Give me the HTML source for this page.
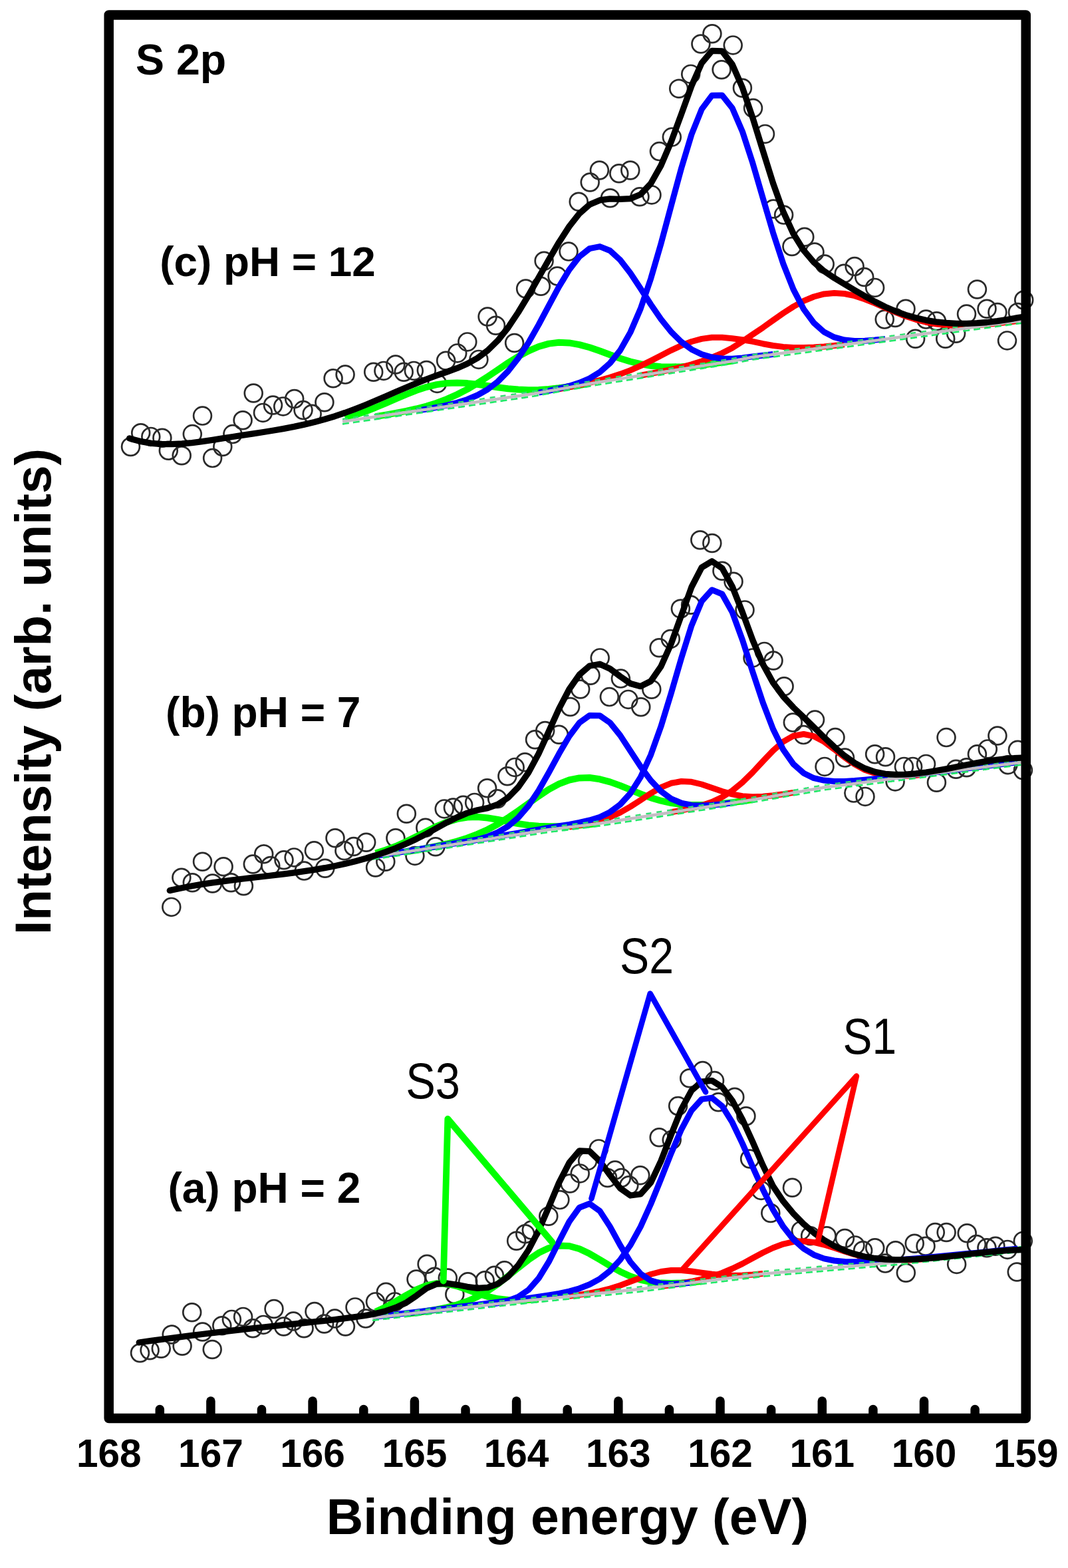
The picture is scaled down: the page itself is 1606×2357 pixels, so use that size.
<!DOCTYPE html><html><head><meta charset="utf-8"><title>S 2p XPS spectra</title><style>html,body{margin:0;padding:0;background:#fff;}svg{display:block;}</style></head><body><svg xmlns="http://www.w3.org/2000/svg" width="1606" height="2357" viewBox="0 0 1606 2357">
<rect width="100%" height="100%" fill="#fff"/>
<g fill="none" stroke="#2a2a2a" stroke-width="2.7"><circle cx="196.5" cy="671.5" r="13.4"/><circle cx="211.7" cy="650.7" r="13.4"/><circle cx="226.8" cy="656.4" r="13.4"/><circle cx="243.9" cy="658.3" r="13.4"/><circle cx="253.3" cy="677.2" r="13.4"/><circle cx="273.2" cy="684.8" r="13.4"/><circle cx="289.3" cy="652.6" r="13.4"/><circle cx="304.5" cy="625.1" r="13.4"/><circle cx="319.6" cy="688.6" r="13.4"/><circle cx="334.8" cy="671.5" r="13.4"/><circle cx="349.9" cy="652.6" r="13.4"/><circle cx="365.1" cy="631.7" r="13.4"/><circle cx="381.2" cy="591.0" r="13.4"/><circle cx="395.4" cy="620.4" r="13.4"/><circle cx="410.5" cy="609.0" r="13.4"/><circle cx="425.7" cy="610.9" r="13.4"/><circle cx="442.7" cy="599.5" r="13.4"/><circle cx="456.0" cy="616.6" r="13.4"/><circle cx="469.2" cy="622.3" r="13.4"/><circle cx="487.9" cy="604.8" r="13.4"/><circle cx="501.1" cy="568.8" r="13.4"/><circle cx="519.1" cy="563.1" r="13.4"/><circle cx="561.7" cy="559.3" r="13.4"/><circle cx="576.9" cy="557.4" r="13.4"/><circle cx="594.9" cy="548.0" r="13.4"/><circle cx="607.2" cy="559.3" r="13.4"/><circle cx="622.3" cy="557.4" r="13.4"/><circle cx="641.3" cy="556.5" r="13.4"/><circle cx="657.4" cy="576.4" r="13.4"/><circle cx="670.6" cy="542.3" r="13.4"/><circle cx="687.7" cy="530.9" r="13.4"/><circle cx="702.8" cy="513.9" r="13.4"/><circle cx="719.9" cy="540.4" r="13.4"/><circle cx="733.1" cy="476.0" r="13.4"/><circle cx="745.5" cy="489.2" r="13.4"/><circle cx="773.6" cy="515.5" r="13.4"/><circle cx="790.6" cy="434.0" r="13.4"/><circle cx="813.3" cy="430.2" r="13.4"/><circle cx="818.1" cy="392.3" r="13.4"/><circle cx="838.0" cy="415.1" r="13.4"/><circle cx="855.0" cy="378.1" r="13.4"/><circle cx="870.2" cy="303.3" r="13.4"/><circle cx="887.2" cy="274.0" r="13.4"/><circle cx="901.4" cy="256.0" r="13.4"/><circle cx="917.5" cy="297.7" r="13.4"/><circle cx="930.8" cy="260.7" r="13.4"/><circle cx="947.8" cy="256.0" r="13.4"/><circle cx="962.0" cy="295.8" r="13.4"/><circle cx="980.0" cy="292.9" r="13.4"/><circle cx="991.4" cy="227.6" r="13.4"/><circle cx="1010.3" cy="206.1" r="13.4"/><circle cx="1020.7" cy="133.2" r="13.4"/><circle cx="1038.7" cy="111.4" r="13.4"/><circle cx="1053.9" cy="66.0" r="13.4"/><circle cx="1070.9" cy="50.8" r="13.4"/><circle cx="1085.1" cy="104.8" r="13.4"/><circle cx="1102.2" cy="67.9" r="13.4"/><circle cx="1116.4" cy="132.3" r="13.4"/><circle cx="1132.5" cy="162.6" r="13.4"/><circle cx="1150.5" cy="201.4" r="13.4"/><circle cx="1163.0" cy="314.0" r="13.4"/><circle cx="1178.6" cy="323.1" r="13.4"/><circle cx="1190.9" cy="370.5" r="13.4"/><circle cx="1209.8" cy="356.3" r="13.4"/><circle cx="1225.0" cy="379.0" r="13.4"/><circle cx="1240.2" cy="397.0" r="13.4"/><circle cx="1269.2" cy="411.2" r="13.4"/><circle cx="1285.1" cy="400.5" r="13.4"/><circle cx="1299.7" cy="416.5" r="13.4"/><circle cx="1315.6" cy="432.4" r="13.4"/><circle cx="1330.2" cy="480.1" r="13.4"/><circle cx="1346.1" cy="477.5" r="13.4"/><circle cx="1362.0" cy="464.2" r="13.4"/><circle cx="1376.6" cy="509.3" r="13.4"/><circle cx="1392.5" cy="480.1" r="13.4"/><circle cx="1408.4" cy="482.8" r="13.4"/><circle cx="1421.7" cy="509.3" r="13.4"/><circle cx="1437.6" cy="501.3" r="13.4"/><circle cx="1453.5" cy="472.1" r="13.4"/><circle cx="1469.4" cy="435.0" r="13.4"/><circle cx="1484.0" cy="464.2" r="13.4"/><circle cx="1499.9" cy="469.5" r="13.4"/><circle cx="1514.5" cy="511.9" r="13.4"/><circle cx="1530.4" cy="469.5" r="13.4"/><circle cx="1539.7" cy="451.0" r="13.4"/></g>
<polyline points="518.8,628.3 534.1,623.7 549.5,618.5 564.8,612.5 580.1,606.1 595.4,599.4 610.8,592.8 626.1,586.8 641.4,581.8 656.7,578.1 672.1,576.0 687.4,575.4 702.7,576.1 718.0,577.8 733.4,580.0 748.7,582.2 764.0,584.2 779.3,585.6 794.7,586.3 810.0,586.0 825.3,584.9 840.6,583.3 856.0,581.3 871.3,579.0 886.6,576.6" fill="none" stroke="#00ff00" stroke-width="10.0" stroke-linejoin="round" stroke-linecap="butt"/>
<polyline points="564.8,626.1 580.1,623.6 595.4,620.9 610.8,617.9 626.1,614.5 641.4,610.5 656.7,605.7 672.1,599.9 687.4,593.0 702.7,585.1 718.0,576.0 733.4,566.1 748.7,555.8 764.0,545.5 779.3,535.9 794.7,527.6 810.0,521.0 825.3,516.6 840.6,514.8 856.0,515.4 871.3,518.1 886.6,522.3 902.0,527.5 917.3,533.3 932.6,538.7 947.9,543.5 963.3,547.1 978.6,549.7 993.9,551.2 1009.2,551.6 1024.6,551.2 1039.9,550.2 1055.2,548.7 1070.5,546.9 1085.9,544.8 1101.2,542.5" fill="none" stroke="#00ff00" stroke-width="10.0" stroke-linejoin="round" stroke-linecap="butt"/>
<polyline points="840.6,584.8 856.0,581.9 871.3,578.7 886.6,575.3 902.0,571.5 917.3,567.4 932.6,562.4 947.9,556.6 963.3,549.9 978.6,542.4 993.9,534.5 1009.2,526.6 1024.6,519.4 1039.9,513.5 1055.2,509.4 1070.5,507.3 1085.9,507.2 1101.2,508.7 1116.5,510.7 1131.8,513.3 1147.2,516.7 1162.5,519.5 1177.8,521.4 1193.1,522.5 1208.5,522.6 1223.8,522.1 1239.1,521.0 1254.5,519.5 1269.8,517.8" fill="none" stroke="#ff0000" stroke-width="9.0" stroke-linejoin="round" stroke-linecap="butt"/>
<polyline points="963.3,564.2 978.6,561.5 993.9,558.6 1009.2,555.5 1024.6,552.0 1039.9,547.9 1055.2,543.1 1070.5,537.5 1085.9,530.8 1101.2,522.9 1116.5,513.3 1131.8,502.8 1147.2,492.4 1162.5,481.5 1177.8,470.8 1193.1,460.9 1208.5,452.4 1223.8,446.0 1239.1,441.9 1254.5,440.4 1269.8,441.5 1285.1,444.7 1300.4,449.8 1315.8,455.9 1331.1,462.6 1346.4,469.2 1361.7,475.2 1377.1,480.3 1392.4,484.2 1407.7,487.0 1423.0,488.7 1438.4,489.5 1453.7,489.4 1469.0,488.7 1484.3,487.5 1499.7,486.0 1515.0,484.3 1530.3,482.5" fill="none" stroke="#ff0000" stroke-width="9.0" stroke-linejoin="round" stroke-linecap="butt"/>
<polyline points="626.1,617.4 641.4,615.0 656.7,612.3 672.1,609.2 687.4,605.4 702.7,600.5 718.0,594.0 733.4,585.3 748.7,573.5 764.0,558.0 779.3,538.5 794.7,515.1 810.0,488.1 825.3,459.3 840.6,430.9 856.0,405.5 871.3,385.7 886.6,373.6 902.0,370.6 917.3,376.7 932.6,390.8 947.9,410.6 963.3,433.7 978.6,457.5 993.9,479.7 1009.2,498.8 1024.6,514.0 1039.9,525.2 1055.2,532.6 1070.5,537.0 1085.9,539.0 1101.2,539.3 1116.5,537.9 1131.8,535.9 1147.2,534.3 1162.5,532.5" fill="none" stroke="#0000ff" stroke-width="9.0" stroke-linejoin="round" stroke-linecap="butt"/>
<polyline points="810.0,590.2 825.3,587.3 840.6,584.0 856.0,580.2 871.3,575.4 886.6,568.8 902.0,559.3 917.3,545.9 932.6,526.6 947.9,499.6 963.3,463.9 978.6,419.1 993.9,366.6 1009.2,309.5 1024.6,252.7 1039.9,202.1 1055.2,164.1 1070.5,143.6 1085.9,143.2 1101.2,162.5 1116.5,198.0 1131.8,244.9 1147.2,297.8 1162.5,349.8 1177.8,396.5 1193.1,435.1 1208.5,464.6 1223.8,485.4 1239.1,499.0 1254.5,506.9 1269.8,511.0 1285.1,512.4 1300.4,512.2 1315.8,511.0 1331.1,509.4" fill="none" stroke="#0000ff" stroke-width="9.0" stroke-linejoin="round" stroke-linecap="butt"/>
<polyline points="515.0,633.6 517.0,633.3 519.0,633.0 521.0,632.7 523.0,632.4 525.0,632.2 527.0,631.9 529.0,631.6 531.0,631.3 533.0,631.0 535.0,630.7 537.0,630.4 539.0,630.1 541.0,629.9 543.0,629.6 545.0,629.3 547.0,629.0 549.0,628.7 551.0,628.4 553.0,628.1 555.0,627.8 557.0,627.5 559.0,627.3 561.0,627.0 563.0,626.7 565.0,626.4 567.0,626.1 569.0,625.8 571.0,625.5 573.0,625.2 575.0,625.0 577.0,624.7 579.0,624.4 581.0,624.1 583.0,623.8 585.0,623.5 587.0,623.2 589.0,622.9 591.0,622.6 593.0,622.4 595.0,622.1 597.0,621.8 599.0,621.5 601.0,621.2 603.0,620.9 605.0,620.6 607.0,620.3 609.0,620.1 611.0,619.8 613.0,619.5 615.0,619.2 617.0,618.9 619.0,618.6 621.0,618.3 623.0,618.0 625.0,617.7 627.0,617.5 629.0,617.2 631.0,616.9 633.0,616.6 635.0,616.3 637.0,616.0 639.0,615.7 641.0,615.4 643.0,615.2 645.0,614.9 647.0,614.6 649.0,614.3 651.0,614.0 653.0,613.7 655.0,613.4 657.0,613.1 659.0,612.8 661.0,612.5 663.0,612.2 665.0,612.0 667.0,611.7 669.0,611.4 671.0,611.1 673.0,610.8 675.0,610.5 677.0,610.2 679.0,609.9 681.0,609.6 683.0,609.3 685.0,609.0 687.0,608.7 689.0,608.4 691.0,608.1 693.0,607.9 695.0,607.6 697.0,607.3 699.0,607.0 701.0,606.7 703.0,606.4 705.0,606.1 707.0,605.8 709.0,605.5 711.0,605.2 713.0,604.9 715.0,604.6 717.0,604.3 719.0,604.1 721.0,603.8 723.0,603.5 725.0,603.2 727.0,602.9 729.0,602.6 731.0,602.3 733.0,602.0 735.0,601.7 737.0,601.4 739.0,601.1 741.0,600.8 743.0,600.5 745.0,600.2 747.0,600.0 749.0,599.7 751.0,599.4 753.0,599.1 755.0,598.8 757.0,598.5 759.0,598.2 761.0,597.9 763.0,597.6 765.0,597.3 767.0,597.0 769.0,596.7 771.0,596.4 773.0,596.2 775.0,595.9 777.0,595.6 779.0,595.3 781.0,595.0 783.0,594.7 785.0,594.4 787.0,594.1 789.0,593.8 791.0,593.5 793.0,593.2 795.0,592.9 797.0,592.6 799.0,592.3 801.0,592.0 803.0,591.7 805.0,591.3 807.0,591.0 809.0,590.6 811.0,590.3 813.0,589.9 815.0,589.5 817.0,589.2 819.0,588.8 821.0,588.5 823.0,588.1 825.0,587.8 827.0,587.4 829.0,587.1 831.0,586.7 833.0,586.4 835.0,586.0 837.0,585.7 839.0,585.3 841.0,584.9 843.0,584.6 845.0,584.2 847.0,583.9 849.0,583.5 851.0,583.2 853.0,582.8 855.0,582.5 857.0,582.1 859.0,581.8 861.0,581.4 863.0,581.0 865.0,580.7 867.0,580.3 869.0,580.0 871.0,579.6 873.0,579.3 875.0,578.9 877.0,578.6 879.0,578.2 881.0,577.9 883.0,577.5 885.0,577.2 887.0,576.8 889.0,576.4 891.0,576.1 893.0,575.7 895.0,575.4 897.0,575.0 899.0,574.7 901.0,574.3 903.0,574.0 905.0,573.7 907.0,573.4 909.0,573.1 911.0,572.8 913.0,572.5 915.0,572.1 917.0,571.8 919.0,571.5 921.0,571.2 923.0,570.9 925.0,570.6 927.0,570.2 929.0,569.9 931.0,569.6 933.0,569.3 935.0,569.0 937.0,568.7 939.0,568.4 941.0,568.0 943.0,567.7 945.0,567.4 947.0,567.1 949.0,566.8 951.0,566.5 953.0,566.2 955.0,565.8 957.0,565.5 959.0,565.2 961.0,564.9 963.0,564.6 965.0,564.3 967.0,563.9 969.0,563.6 971.0,563.3 973.0,563.0 975.0,562.7 977.0,562.4 979.0,562.1 981.0,561.7 983.0,561.4 985.0,561.1 987.0,560.8 989.0,560.5 991.0,560.2 993.0,559.9 995.0,559.5 997.0,559.2 999.0,558.9 1001.0,558.6 1003.0,558.3 1005.0,558.0 1007.0,557.6 1009.0,557.3 1011.0,557.0 1013.0,556.7 1015.0,556.4 1017.0,556.1 1019.0,555.8 1021.0,555.4 1023.0,555.1 1025.0,554.8 1027.0,554.5 1029.0,554.2 1031.0,553.9 1033.0,553.6 1035.0,553.2 1037.0,552.9 1039.0,552.6 1041.0,552.3 1043.0,552.0 1045.0,551.7 1047.0,551.3 1049.0,551.0 1051.0,550.7 1053.0,550.4 1055.0,550.1 1057.0,549.8 1059.0,549.5 1061.0,549.1 1063.0,548.8 1065.0,548.5 1067.0,548.2 1069.0,547.9 1071.0,547.6 1073.0,547.3 1075.0,546.9 1077.0,546.6 1079.0,546.3 1081.0,546.0 1083.0,545.7 1085.0,545.4 1087.0,545.0 1089.0,544.7 1091.0,544.4 1093.0,544.1 1095.0,543.8 1097.0,543.5 1099.0,543.2 1101.0,542.8 1103.0,542.4 1105.0,542.0 1107.0,541.6 1109.0,541.2 1111.0,540.8 1113.0,540.4 1115.0,540.0 1117.0,539.7 1119.0,539.3 1121.0,538.9 1123.0,538.5 1125.0,538.1 1127.0,537.7 1129.0,537.3 1131.0,537.0 1133.0,536.7 1135.0,536.4 1137.0,536.1 1139.0,535.9 1141.0,535.6 1143.0,535.3 1145.0,535.1 1147.0,534.8 1149.0,534.5 1151.0,534.2 1153.0,534.0 1155.0,533.7 1157.0,533.4 1159.0,533.2 1161.0,532.9 1163.0,532.6 1165.0,532.3 1167.0,532.1 1169.0,531.8 1171.0,531.5 1173.0,531.3 1175.0,531.0 1177.0,530.7 1179.0,530.4 1181.0,530.2 1183.0,529.9 1185.0,529.6 1187.0,529.4 1189.0,529.1 1191.0,528.8 1193.0,528.5 1195.0,528.3 1197.0,528.0 1199.0,527.7 1201.0,527.5 1203.0,527.2 1205.0,526.9 1207.0,526.6 1209.0,526.4 1211.0,526.1 1213.0,525.8 1215.0,525.6 1217.0,525.3 1219.0,525.0 1221.0,524.7 1223.0,524.5 1225.0,524.2 1227.0,523.9 1229.0,523.7 1231.0,523.4 1233.0,523.1 1235.0,522.8 1237.0,522.6 1239.0,522.3 1241.0,522.0 1243.0,521.8 1245.0,521.5 1247.0,521.2 1249.0,520.9 1251.0,520.7 1253.0,520.4 1255.0,520.1 1257.0,519.8 1259.0,519.6 1261.0,519.3 1263.0,519.0 1265.0,518.8 1267.0,518.5 1269.0,518.2 1271.0,517.9 1273.0,517.7 1275.0,517.4 1277.0,517.1 1279.0,516.9 1281.0,516.6 1283.0,516.3 1285.0,516.0 1287.0,515.8 1289.0,515.5 1291.0,515.2 1293.0,515.0 1295.0,514.7 1297.0,514.4 1299.0,514.1 1301.0,513.9 1303.0,513.6 1305.0,513.3 1307.0,513.1 1309.0,512.8 1311.0,512.5 1313.0,512.2 1315.0,512.0 1317.0,511.7 1319.0,511.4 1321.0,511.2 1323.0,510.9 1325.0,510.6 1327.0,510.3 1329.0,510.1 1331.0,509.8 1333.0,509.5 1335.0,509.3 1337.0,509.0 1339.0,508.7 1341.0,508.4 1343.0,508.2 1345.0,507.9 1347.0,507.6 1349.0,507.4 1351.0,507.1 1353.0,506.8 1355.0,506.5 1357.0,506.3 1359.0,506.0 1361.0,505.7 1363.0,505.5 1365.0,505.2 1367.0,504.9 1369.0,504.6 1371.0,504.4 1373.0,504.1 1375.0,503.8 1377.0,503.5 1379.0,503.3 1381.0,503.0 1383.0,502.7 1385.0,502.5 1387.0,502.2 1389.0,501.9 1391.0,501.6 1393.0,501.4 1395.0,501.1 1397.0,500.8 1399.0,500.6 1401.0,500.3 1403.0,500.0 1405.0,499.7 1407.0,499.5 1409.0,499.2 1411.0,498.9 1413.0,498.7 1415.0,498.4 1417.0,498.1 1419.0,497.8 1421.0,497.6 1423.0,497.3 1425.0,497.0 1427.0,496.8 1429.0,496.5 1431.0,496.2 1433.0,495.9 1435.0,495.7 1437.0,495.4 1439.0,495.1 1441.0,494.9 1443.0,494.6 1445.0,494.3 1447.0,494.0 1449.0,493.8 1451.0,493.5 1453.0,493.2 1455.0,493.0 1457.0,492.7 1459.0,492.4 1461.0,492.1 1463.0,491.9 1465.0,491.6 1467.0,491.3 1469.0,491.1 1471.0,490.8 1473.0,490.5 1475.0,490.2 1477.0,490.0 1479.0,489.7 1481.0,489.4 1483.0,489.2 1485.0,488.9 1487.0,488.6 1489.0,488.3 1491.0,488.1 1493.0,487.8 1495.0,487.5 1497.0,487.2 1499.0,487.0 1501.0,486.7 1503.0,486.4 1505.0,486.2 1507.0,485.9 1509.0,485.6 1511.0,485.3 1513.0,485.1 1515.0,484.8 1517.0,484.5 1519.0,484.3 1521.0,484.0 1523.0,483.7 1525.0,483.4 1527.0,483.2 1529.0,482.9 1531.0,482.6 1533.0,482.4 1535.0,482.1 1537.0,481.8 1539.0,481.5 1541.0,481.3 1543.0,481.0" fill="none" stroke="#c4bcc4" stroke-width="4.5"/>
<polyline points="515.0,637.4 517.0,637.1 519.0,636.8 521.0,636.5 523.0,636.2 525.0,636.0 527.0,635.7 529.0,635.4 531.0,635.1 533.0,634.8 535.0,634.5 537.0,634.2 539.0,633.9 541.0,633.7 543.0,633.4 545.0,633.1 547.0,632.8 549.0,632.5 551.0,632.2 553.0,631.9 555.0,631.6 557.0,631.3 559.0,631.1 561.0,630.8 563.0,630.5 565.0,630.2 567.0,629.9 569.0,629.6 571.0,629.3 573.0,629.0 575.0,628.8 577.0,628.5 579.0,628.2 581.0,627.9 583.0,627.6 585.0,627.3 587.0,627.0 589.0,626.7 591.0,626.4 593.0,626.2 595.0,625.9 597.0,625.6 599.0,625.3 601.0,625.0 603.0,624.7 605.0,624.4 607.0,624.1 609.0,623.9 611.0,623.6 613.0,623.3 615.0,623.0 617.0,622.7 619.0,622.4 621.0,622.1 623.0,621.8 625.0,621.5 627.0,621.3 629.0,621.0 631.0,620.7 633.0,620.4 635.0,620.1 637.0,619.8 639.0,619.5 641.0,619.2 643.0,619.0 645.0,618.7 647.0,618.4 649.0,618.1 651.0,617.8 653.0,617.5 655.0,617.2 657.0,616.9 659.0,616.6 661.0,616.3 663.0,616.0 665.0,615.8 667.0,615.5 669.0,615.2 671.0,614.9 673.0,614.6 675.0,614.3 677.0,614.0 679.0,613.7 681.0,613.4 683.0,613.1 685.0,612.8 687.0,612.5 689.0,612.2 691.0,611.9 693.0,611.7 695.0,611.4 697.0,611.1 699.0,610.8 701.0,610.5 703.0,610.2 705.0,609.9 707.0,609.6 709.0,609.3 711.0,609.0 713.0,608.7 715.0,608.4 717.0,608.1 719.0,607.9 721.0,607.6 723.0,607.3 725.0,607.0 727.0,606.7 729.0,606.4 731.0,606.1 733.0,605.8 735.0,605.5 737.0,605.2 739.0,604.9 741.0,604.6 743.0,604.3 745.0,604.0 747.0,603.8 749.0,603.5 751.0,603.2 753.0,602.9 755.0,602.6 757.0,602.3 759.0,602.0 761.0,601.7 763.0,601.4 765.0,601.1 767.0,600.8 769.0,600.5 771.0,600.2 773.0,600.0 775.0,599.7 777.0,599.4 779.0,599.1 781.0,598.8 783.0,598.5 785.0,598.2 787.0,597.9 789.0,597.6 791.0,597.3 793.0,597.0 795.0,596.7 797.0,596.4 799.0,596.1 801.0,595.8 803.0,595.5 805.0,595.1 807.0,594.8 809.0,594.4 811.0,594.1 813.0,593.7 815.0,593.3 817.0,593.0 819.0,592.6 821.0,592.3 823.0,591.9 825.0,591.6 827.0,591.2 829.0,590.9 831.0,590.5 833.0,590.2 835.0,589.8 837.0,589.5 839.0,589.1 841.0,588.7 843.0,588.4 845.0,588.0 847.0,587.7 849.0,587.3 851.0,587.0 853.0,586.6 855.0,586.3 857.0,585.9 859.0,585.6 861.0,585.2 863.0,584.8 865.0,584.5 867.0,584.1 869.0,583.8 871.0,583.4 873.0,583.1 875.0,582.7 877.0,582.4 879.0,582.0 881.0,581.7 883.0,581.3 885.0,581.0 887.0,580.6 889.0,580.2 891.0,579.9 893.0,579.5 895.0,579.2 897.0,578.8 899.0,578.5 901.0,578.1 903.0,577.8 905.0,577.5 907.0,577.2 909.0,576.9 911.0,576.6 913.0,576.3 915.0,575.9 917.0,575.6 919.0,575.3 921.0,575.0 923.0,574.7 925.0,574.4 927.0,574.0 929.0,573.7 931.0,573.4 933.0,573.1 935.0,572.8 937.0,572.5 939.0,572.2 941.0,571.8 943.0,571.5 945.0,571.2 947.0,570.9 949.0,570.6 951.0,570.3 953.0,570.0 955.0,569.6 957.0,569.3 959.0,569.0 961.0,568.7 963.0,568.4 965.0,568.1 967.0,567.7 969.0,567.4 971.0,567.1 973.0,566.8 975.0,566.5 977.0,566.2 979.0,565.9 981.0,565.5 983.0,565.2 985.0,564.9 987.0,564.6 989.0,564.3 991.0,564.0 993.0,563.7 995.0,563.3 997.0,563.0 999.0,562.7 1001.0,562.4 1003.0,562.1 1005.0,561.8 1007.0,561.4 1009.0,561.1 1011.0,560.8 1013.0,560.5 1015.0,560.2 1017.0,559.9 1019.0,559.6 1021.0,559.2 1023.0,558.9 1025.0,558.6 1027.0,558.3 1029.0,558.0 1031.0,557.7 1033.0,557.4 1035.0,557.0 1037.0,556.7 1039.0,556.4 1041.0,556.1 1043.0,555.8 1045.0,555.5 1047.0,555.1 1049.0,554.8 1051.0,554.5 1053.0,554.2 1055.0,553.9 1057.0,553.6 1059.0,553.3 1061.0,552.9 1063.0,552.6 1065.0,552.3 1067.0,552.0 1069.0,551.7 1071.0,551.4 1073.0,551.1 1075.0,550.7 1077.0,550.4 1079.0,550.1 1081.0,549.8 1083.0,549.5 1085.0,549.2 1087.0,548.8 1089.0,548.5 1091.0,548.2 1093.0,547.9 1095.0,547.6 1097.0,547.3 1099.0,547.0 1101.0,546.6 1103.0,546.2 1105.0,545.8 1107.0,545.4 1109.0,545.0 1111.0,544.6 1113.0,544.2 1115.0,543.8 1117.0,543.5 1119.0,543.1 1121.0,542.7 1123.0,542.3 1125.0,541.9 1127.0,541.5 1129.0,541.1 1131.0,540.8 1133.0,540.5 1135.0,540.2 1137.0,539.9 1139.0,539.7 1141.0,539.4 1143.0,539.1 1145.0,538.9 1147.0,538.6 1149.0,538.3 1151.0,538.0 1153.0,537.8 1155.0,537.5 1157.0,537.2 1159.0,537.0 1161.0,536.7 1163.0,536.4 1165.0,536.1 1167.0,535.9 1169.0,535.6 1171.0,535.3 1173.0,535.1 1175.0,534.8 1177.0,534.5 1179.0,534.2 1181.0,534.0 1183.0,533.7 1185.0,533.4 1187.0,533.2 1189.0,532.9 1191.0,532.6 1193.0,532.3 1195.0,532.1 1197.0,531.8 1199.0,531.5 1201.0,531.3 1203.0,531.0 1205.0,530.7 1207.0,530.4 1209.0,530.2 1211.0,529.9 1213.0,529.6 1215.0,529.4 1217.0,529.1 1219.0,528.8 1221.0,528.5 1223.0,528.3 1225.0,528.0 1227.0,527.7 1229.0,527.5 1231.0,527.2 1233.0,526.9 1235.0,526.6 1237.0,526.4 1239.0,526.1 1241.0,525.8 1243.0,525.6 1245.0,525.3 1247.0,525.0 1249.0,524.7 1251.0,524.5 1253.0,524.2 1255.0,523.9 1257.0,523.6 1259.0,523.4 1261.0,523.1 1263.0,522.8 1265.0,522.6 1267.0,522.3 1269.0,522.0 1271.0,521.7 1273.0,521.5 1275.0,521.2 1277.0,520.9 1279.0,520.7 1281.0,520.4 1283.0,520.1 1285.0,519.8 1287.0,519.6 1289.0,519.3 1291.0,519.0 1293.0,518.8 1295.0,518.5 1297.0,518.2 1299.0,517.9 1301.0,517.7 1303.0,517.4 1305.0,517.1 1307.0,516.9 1309.0,516.6 1311.0,516.3 1313.0,516.0 1315.0,515.8 1317.0,515.5 1319.0,515.2 1321.0,515.0 1323.0,514.7 1325.0,514.4 1327.0,514.1 1329.0,513.9 1331.0,513.6 1333.0,513.3 1335.0,513.1 1337.0,512.8 1339.0,512.5 1341.0,512.2 1343.0,512.0 1345.0,511.7 1347.0,511.4 1349.0,511.2 1351.0,510.9 1353.0,510.6 1355.0,510.3 1357.0,510.1 1359.0,509.8 1361.0,509.5 1363.0,509.3 1365.0,509.0 1367.0,508.7 1369.0,508.4 1371.0,508.2 1373.0,507.9 1375.0,507.6 1377.0,507.3 1379.0,507.1 1381.0,506.8 1383.0,506.5 1385.0,506.3 1387.0,506.0 1389.0,505.7 1391.0,505.4 1393.0,505.2 1395.0,504.9 1397.0,504.6 1399.0,504.4 1401.0,504.1 1403.0,503.8 1405.0,503.5 1407.0,503.3 1409.0,503.0 1411.0,502.7 1413.0,502.5 1415.0,502.2 1417.0,501.9 1419.0,501.6 1421.0,501.4 1423.0,501.1 1425.0,500.8 1427.0,500.6 1429.0,500.3 1431.0,500.0 1433.0,499.7 1435.0,499.5 1437.0,499.2 1439.0,498.9 1441.0,498.7 1443.0,498.4 1445.0,498.1 1447.0,497.8 1449.0,497.6 1451.0,497.3 1453.0,497.0 1455.0,496.8 1457.0,496.5 1459.0,496.2 1461.0,495.9 1463.0,495.7 1465.0,495.4 1467.0,495.1 1469.0,494.9 1471.0,494.6 1473.0,494.3 1475.0,494.0 1477.0,493.8 1479.0,493.5 1481.0,493.2 1483.0,493.0 1485.0,492.7 1487.0,492.4 1489.0,492.1 1491.0,491.9 1493.0,491.6 1495.0,491.3 1497.0,491.0 1499.0,490.8 1501.0,490.5 1503.0,490.2 1505.0,490.0 1507.0,489.7 1509.0,489.4 1511.0,489.1 1513.0,488.9 1515.0,488.6 1517.0,488.3 1519.0,488.1 1521.0,487.8 1523.0,487.5 1525.0,487.2 1527.0,487.0 1529.0,486.7 1531.0,486.4 1533.0,486.2 1535.0,485.9 1537.0,485.6 1539.0,485.3 1541.0,485.1 1543.0,484.8" fill="none" stroke="#22e868" stroke-width="2.6" stroke-dasharray="10 6"/>
<polyline points="515.0,630.0 517.0,629.7 519.0,629.4 521.0,629.1 523.0,628.8 525.0,628.6 527.0,628.3 529.0,628.0 531.0,627.7 533.0,627.4 535.0,627.1 537.0,626.8 539.0,626.5 541.0,626.3 543.0,626.0 545.0,625.7 547.0,625.4 549.0,625.1 551.0,624.8 553.0,624.5 555.0,624.2 557.0,623.9 559.0,623.7 561.0,623.4 563.0,623.1 565.0,622.8 567.0,622.5 569.0,622.2 571.0,621.9 573.0,621.6 575.0,621.4 577.0,621.1 579.0,620.8 581.0,620.5 583.0,620.2 585.0,619.9 587.0,619.6 589.0,619.3 591.0,619.0 593.0,618.8 595.0,618.5 597.0,618.2 599.0,617.9 601.0,617.6 603.0,617.3 605.0,617.0 607.0,616.7 609.0,616.5 611.0,616.2 613.0,615.9 615.0,615.6 617.0,615.3 619.0,615.0 621.0,614.7 623.0,614.4 625.0,614.1 627.0,613.9 629.0,613.6 631.0,613.3 633.0,613.0 635.0,612.7 637.0,612.4 639.0,612.1 641.0,611.8 643.0,611.6 645.0,611.3 647.0,611.0 649.0,610.7 651.0,610.4 653.0,610.1 655.0,609.8 657.0,609.5 659.0,609.2 661.0,608.9 663.0,608.6 665.0,608.4 667.0,608.1 669.0,607.8 671.0,607.5 673.0,607.2 675.0,606.9 677.0,606.6 679.0,606.3 681.0,606.0 683.0,605.7 685.0,605.4 687.0,605.1 689.0,604.8 691.0,604.5 693.0,604.3 695.0,604.0 697.0,603.7 699.0,603.4 701.0,603.1 703.0,602.8 705.0,602.5 707.0,602.2 709.0,601.9 711.0,601.6 713.0,601.3 715.0,601.0 717.0,600.7 719.0,600.5 721.0,600.2 723.0,599.9 725.0,599.6 727.0,599.3 729.0,599.0 731.0,598.7 733.0,598.4 735.0,598.1 737.0,597.8 739.0,597.5 741.0,597.2 743.0,596.9 745.0,596.6 747.0,596.4 749.0,596.1 751.0,595.8 753.0,595.5 755.0,595.2 757.0,594.9 759.0,594.6 761.0,594.3 763.0,594.0 765.0,593.7 767.0,593.4 769.0,593.1 771.0,592.8 773.0,592.6 775.0,592.3 777.0,592.0 779.0,591.7 781.0,591.4 783.0,591.1 785.0,590.8 787.0,590.5 789.0,590.2 791.0,589.9 793.0,589.6 795.0,589.3 797.0,589.0 799.0,588.7 801.0,588.4 803.0,588.1 805.0,587.7 807.0,587.4 809.0,587.0 811.0,586.7 813.0,586.3 815.0,585.9 817.0,585.6 819.0,585.2 821.0,584.9 823.0,584.5 825.0,584.2 827.0,583.8 829.0,583.5 831.0,583.1 833.0,582.8 835.0,582.4 837.0,582.1 839.0,581.7 841.0,581.3 843.0,581.0 845.0,580.6 847.0,580.3 849.0,579.9 851.0,579.6 853.0,579.2 855.0,578.9 857.0,578.5 859.0,578.2 861.0,577.8 863.0,577.4 865.0,577.1 867.0,576.7 869.0,576.4 871.0,576.0 873.0,575.7 875.0,575.3 877.0,575.0 879.0,574.6 881.0,574.3 883.0,573.9 885.0,573.6 887.0,573.2 889.0,572.8 891.0,572.5 893.0,572.1 895.0,571.8 897.0,571.4 899.0,571.1 901.0,570.7 903.0,570.4 905.0,570.1 907.0,569.8 909.0,569.5 911.0,569.2 913.0,568.9 915.0,568.5 917.0,568.2 919.0,567.9 921.0,567.6 923.0,567.3 925.0,567.0 927.0,566.6 929.0,566.3 931.0,566.0 933.0,565.7 935.0,565.4 937.0,565.1 939.0,564.8 941.0,564.4 943.0,564.1 945.0,563.8 947.0,563.5 949.0,563.2 951.0,562.9 953.0,562.6 955.0,562.2 957.0,561.9 959.0,561.6 961.0,561.3 963.0,561.0 965.0,560.7 967.0,560.3 969.0,560.0 971.0,559.7 973.0,559.4 975.0,559.1 977.0,558.8 979.0,558.5 981.0,558.1 983.0,557.8 985.0,557.5 987.0,557.2 989.0,556.9 991.0,556.6 993.0,556.3 995.0,555.9 997.0,555.6 999.0,555.3 1001.0,555.0 1003.0,554.7 1005.0,554.4 1007.0,554.0 1009.0,553.7 1011.0,553.4 1013.0,553.1 1015.0,552.8 1017.0,552.5 1019.0,552.2 1021.0,551.8 1023.0,551.5 1025.0,551.2 1027.0,550.9 1029.0,550.6 1031.0,550.3 1033.0,550.0 1035.0,549.6 1037.0,549.3 1039.0,549.0 1041.0,548.7 1043.0,548.4 1045.0,548.1 1047.0,547.7 1049.0,547.4 1051.0,547.1 1053.0,546.8 1055.0,546.5 1057.0,546.2 1059.0,545.9 1061.0,545.5 1063.0,545.2 1065.0,544.9 1067.0,544.6 1069.0,544.3 1071.0,544.0 1073.0,543.7 1075.0,543.3 1077.0,543.0 1079.0,542.7 1081.0,542.4 1083.0,542.1 1085.0,541.8 1087.0,541.4 1089.0,541.1 1091.0,540.8 1093.0,540.5 1095.0,540.2 1097.0,539.9 1099.0,539.6 1101.0,539.2 1103.0,538.8 1105.0,538.4 1107.0,538.0 1109.0,537.6 1111.0,537.2 1113.0,536.8 1115.0,536.4 1117.0,536.1 1119.0,535.7 1121.0,535.3 1123.0,534.9 1125.0,534.5 1127.0,534.1 1129.0,533.7 1131.0,533.4 1133.0,533.1 1135.0,532.8 1137.0,532.5 1139.0,532.3 1141.0,532.0 1143.0,531.7 1145.0,531.5 1147.0,531.2 1149.0,530.9 1151.0,530.6 1153.0,530.4 1155.0,530.1 1157.0,529.8 1159.0,529.6 1161.0,529.3 1163.0,529.0 1165.0,528.7 1167.0,528.5 1169.0,528.2 1171.0,527.9 1173.0,527.7 1175.0,527.4 1177.0,527.1 1179.0,526.8 1181.0,526.6 1183.0,526.3 1185.0,526.0 1187.0,525.8 1189.0,525.5 1191.0,525.2 1193.0,524.9 1195.0,524.7 1197.0,524.4 1199.0,524.1 1201.0,523.9 1203.0,523.6 1205.0,523.3 1207.0,523.0 1209.0,522.8 1211.0,522.5 1213.0,522.2 1215.0,522.0 1217.0,521.7 1219.0,521.4 1221.0,521.1 1223.0,520.9 1225.0,520.6 1227.0,520.3 1229.0,520.1 1231.0,519.8 1233.0,519.5 1235.0,519.2 1237.0,519.0 1239.0,518.7 1241.0,518.4 1243.0,518.2 1245.0,517.9 1247.0,517.6 1249.0,517.3 1251.0,517.1 1253.0,516.8 1255.0,516.5 1257.0,516.2 1259.0,516.0 1261.0,515.7 1263.0,515.4 1265.0,515.2 1267.0,514.9 1269.0,514.6 1271.0,514.3 1273.0,514.1 1275.0,513.8 1277.0,513.5 1279.0,513.3 1281.0,513.0 1283.0,512.7 1285.0,512.4 1287.0,512.2 1289.0,511.9 1291.0,511.6 1293.0,511.4 1295.0,511.1 1297.0,510.8 1299.0,510.5 1301.0,510.3 1303.0,510.0 1305.0,509.7 1307.0,509.5 1309.0,509.2 1311.0,508.9 1313.0,508.6 1315.0,508.4 1317.0,508.1 1319.0,507.8 1321.0,507.6 1323.0,507.3 1325.0,507.0 1327.0,506.7 1329.0,506.5 1331.0,506.2 1333.0,505.9 1335.0,505.7 1337.0,505.4 1339.0,505.1 1341.0,504.8 1343.0,504.6 1345.0,504.3 1347.0,504.0 1349.0,503.8 1351.0,503.5 1353.0,503.2 1355.0,502.9 1357.0,502.7 1359.0,502.4 1361.0,502.1 1363.0,501.9 1365.0,501.6 1367.0,501.3 1369.0,501.0 1371.0,500.8 1373.0,500.5 1375.0,500.2 1377.0,499.9 1379.0,499.7 1381.0,499.4 1383.0,499.1 1385.0,498.9 1387.0,498.6 1389.0,498.3 1391.0,498.0 1393.0,497.8 1395.0,497.5 1397.0,497.2 1399.0,497.0 1401.0,496.7 1403.0,496.4 1405.0,496.1 1407.0,495.9 1409.0,495.6 1411.0,495.3 1413.0,495.1 1415.0,494.8 1417.0,494.5 1419.0,494.2 1421.0,494.0 1423.0,493.7 1425.0,493.4 1427.0,493.2 1429.0,492.9 1431.0,492.6 1433.0,492.3 1435.0,492.1 1437.0,491.8 1439.0,491.5 1441.0,491.3 1443.0,491.0 1445.0,490.7 1447.0,490.4 1449.0,490.2 1451.0,489.9 1453.0,489.6 1455.0,489.4 1457.0,489.1 1459.0,488.8 1461.0,488.5 1463.0,488.3 1465.0,488.0 1467.0,487.7 1469.0,487.5 1471.0,487.2 1473.0,486.9 1475.0,486.6 1477.0,486.4 1479.0,486.1 1481.0,485.8 1483.0,485.6 1485.0,485.3 1487.0,485.0 1489.0,484.7 1491.0,484.5 1493.0,484.2 1495.0,483.9 1497.0,483.6 1499.0,483.4 1501.0,483.1 1503.0,482.8 1505.0,482.6 1507.0,482.3 1509.0,482.0 1511.0,481.7 1513.0,481.5 1515.0,481.2 1517.0,480.9 1519.0,480.7 1521.0,480.4 1523.0,480.1 1525.0,479.8 1527.0,479.6 1529.0,479.3 1531.0,479.0 1533.0,478.8 1535.0,478.5 1537.0,478.2 1539.0,477.9 1541.0,477.7 1543.0,477.4" fill="none" stroke="#30e070" stroke-width="2.4" stroke-dasharray="8 8"/>
<polyline points="194.6,658.9 197.0,659.7 212.3,663.7 227.6,666.3 242.9,667.5 258.3,667.7 273.6,667.0 288.9,665.6 304.2,663.6 319.6,661.4 334.9,658.9 350.2,656.5 365.5,654.2 380.9,651.9 396.2,649.5 411.5,647.0 426.8,644.3 442.2,641.4 457.5,638.1 472.8,634.5 488.2,630.3 503.5,625.7 518.8,620.5 534.1,614.8 549.5,608.7 564.8,602.3 580.1,595.7 595.4,589.1 610.8,582.5 626.1,576.1 641.4,570.0 656.7,564.3 672.1,559.0 687.4,553.4 702.7,546.8 718.0,538.2 733.4,526.8 748.7,511.8 764.0,492.5 779.3,469.5 794.7,444.0 810.0,417.2 825.3,390.2 840.6,364.2 856.0,340.4 871.3,320.9 886.6,307.6 902.0,300.9 917.3,298.9 932.6,299.3 947.9,298.6 963.3,292.2 978.6,276.0 993.9,248.9 1009.2,213.2 1024.6,171.5 1039.9,129.1 1055.2,94.7 1070.5,76.4 1085.9,76.9 1101.2,96.8 1116.5,131.9 1131.8,176.9 1147.2,226.5 1162.5,275.4 1177.8,318.2 1193.1,351.5 1208.5,376.2 1223.8,394.2 1239.1,407.4 1254.5,417.8 1269.8,427.0 1285.1,436.2 1300.4,445.1 1315.8,453.5 1331.1,461.2 1346.4,467.8 1361.7,473.4 1377.1,477.8 1392.4,481.3 1407.7,483.8 1423.0,485.4 1438.4,486.3 1453.7,486.3 1469.0,485.7 1484.3,484.5 1499.7,482.7 1515.0,480.4 1530.3,477.7 1535.7,476.7" fill="none" stroke="#000" stroke-width="9.3" stroke-linejoin="round" stroke-linecap="round"/>
<g fill="none" stroke="#2a2a2a" stroke-width="2.7"><circle cx="257.8" cy="1363.4" r="13.4"/><circle cx="272.9" cy="1319.2" r="13.4"/><circle cx="289.3" cy="1326.8" r="13.4"/><circle cx="304.5" cy="1295.2" r="13.4"/><circle cx="319.6" cy="1328.0" r="13.4"/><circle cx="336.1" cy="1302.8" r="13.4"/><circle cx="347.4" cy="1326.8" r="13.4"/><circle cx="366.4" cy="1331.8" r="13.4"/><circle cx="380.3" cy="1299.0" r="13.4"/><circle cx="396.7" cy="1283.8" r="13.4"/><circle cx="406.8" cy="1301.5" r="13.4"/><circle cx="427.0" cy="1292.7" r="13.4"/><circle cx="442.1" cy="1288.9" r="13.4"/><circle cx="457.3" cy="1309.1" r="13.4"/><circle cx="472.4" cy="1278.8" r="13.4"/><circle cx="488.8" cy="1305.3" r="13.4"/><circle cx="504.0" cy="1259.8" r="13.4"/><circle cx="517.9" cy="1278.8" r="13.4"/><circle cx="531.8" cy="1272.5" r="13.4"/><circle cx="550.7" cy="1266.2" r="13.4"/><circle cx="564.6" cy="1304.0" r="13.4"/><circle cx="579.8" cy="1295.2" r="13.4"/><circle cx="594.9" cy="1259.8" r="13.4"/><circle cx="611.3" cy="1223.2" r="13.4"/><circle cx="623.9" cy="1286.4" r="13.4"/><circle cx="639.8" cy="1244.3" r="13.4"/><circle cx="654.9" cy="1272.7" r="13.4"/><circle cx="668.2" cy="1215.9" r="13.4"/><circle cx="681.4" cy="1214.0" r="13.4"/><circle cx="696.6" cy="1210.2" r="13.4"/><circle cx="713.6" cy="1206.4" r="13.4"/><circle cx="732.6" cy="1184.7" r="13.4"/><circle cx="747.7" cy="1200.8" r="13.4"/><circle cx="762.9" cy="1166.7" r="13.4"/><circle cx="774.2" cy="1153.4" r="13.4"/><circle cx="789.4" cy="1145.8" r="13.4"/><circle cx="804.5" cy="1111.7" r="13.4"/><circle cx="819.7" cy="1098.5" r="13.4"/><circle cx="840.5" cy="1104.2" r="13.4"/><circle cx="857.6" cy="1062.5" r="13.4"/><circle cx="872.7" cy="1036.0" r="13.4"/><circle cx="887.9" cy="1015.2" r="13.4"/><circle cx="902.2" cy="988.9" r="13.4"/><circle cx="916.4" cy="1047.6" r="13.4"/><circle cx="933.4" cy="1020.1" r="13.4"/><circle cx="944.8" cy="1051.4" r="13.4"/><circle cx="963.8" cy="1062.7" r="13.4"/><circle cx="979.8" cy="1036.2" r="13.4"/><circle cx="991.2" cy="973.7" r="13.4"/><circle cx="1008.3" cy="960.5" r="13.4"/><circle cx="1023.4" cy="915.0" r="13.4"/><circle cx="1038.6" cy="909.3" r="13.4"/><circle cx="1052.8" cy="811.8" r="13.4"/><circle cx="1070.8" cy="816.5" r="13.4"/><circle cx="1085.9" cy="858.2" r="13.4"/><circle cx="1103.0" cy="874.3" r="13.4"/><circle cx="1120.0" cy="916.9" r="13.4"/><circle cx="1132.0" cy="988.9" r="13.4"/><circle cx="1149.4" cy="979.4" r="13.4"/><circle cx="1163.0" cy="993.0" r="13.4"/><circle cx="1179.1" cy="1031.7" r="13.4"/><circle cx="1192.3" cy="1086.1" r="13.4"/><circle cx="1208.2" cy="1104.6" r="13.4"/><circle cx="1225.5" cy="1082.1" r="13.4"/><circle cx="1240.0" cy="1152.4" r="13.4"/><circle cx="1256.0" cy="1108.6" r="13.4"/><circle cx="1270.5" cy="1139.1" r="13.4"/><circle cx="1283.8" cy="1192.1" r="13.4"/><circle cx="1301.0" cy="1197.4" r="13.4"/><circle cx="1315.6" cy="1133.8" r="13.4"/><circle cx="1331.5" cy="1137.8" r="13.4"/><circle cx="1346.1" cy="1174.9" r="13.4"/><circle cx="1359.4" cy="1152.4" r="13.4"/><circle cx="1372.6" cy="1152.4" r="13.4"/><circle cx="1392.5" cy="1148.4" r="13.4"/><circle cx="1408.4" cy="1176.2" r="13.4"/><circle cx="1423.0" cy="1108.6" r="13.4"/><circle cx="1437.6" cy="1156.3" r="13.4"/><circle cx="1453.5" cy="1153.7" r="13.4"/><circle cx="1469.4" cy="1133.8" r="13.4"/><circle cx="1485.3" cy="1125.9" r="13.4"/><circle cx="1499.9" cy="1106.0" r="13.4"/><circle cx="1515.8" cy="1149.7" r="13.4"/><circle cx="1530.4" cy="1127.2" r="13.4"/><circle cx="1538.4" cy="1157.7" r="13.4"/></g>
<polyline points="564.8,1282.6 580.1,1277.8 595.4,1272.0 610.8,1265.1 626.1,1257.5 641.4,1249.6 656.7,1242.1 672.1,1235.7 687.4,1231.1 702.7,1228.5 718.0,1228.1 733.4,1229.5 748.7,1232.0 764.0,1235.1 779.3,1238.1 794.7,1240.4 810.0,1241.8 825.3,1242.2 840.6,1242.3 856.0,1241.7 871.3,1240.6 886.6,1239.2 902.0,1237.5" fill="none" stroke="#00ff00" stroke-width="10.0" stroke-linejoin="round" stroke-linecap="butt"/>
<polyline points="610.8,1280.3 626.1,1277.7 641.4,1274.9 656.7,1271.9 672.1,1268.5 687.4,1264.5 702.7,1259.7 718.0,1253.9 733.4,1247.0 748.7,1238.8 764.0,1229.3 779.3,1218.9 794.7,1207.8 810.0,1196.8 825.3,1186.6 840.6,1178.4 856.0,1172.5 871.3,1169.4 886.6,1169.0 902.0,1171.3 917.3,1175.4 932.6,1180.9 947.9,1187.2 963.3,1193.5 978.6,1199.1 993.9,1203.7 1009.2,1207.1 1024.6,1209.2 1039.9,1210.1 1055.2,1210.1 1070.5,1209.3 1085.9,1207.9 1101.2,1206.2 1116.5,1204.2 1131.8,1202.0" fill="none" stroke="#00ff00" stroke-width="10.0" stroke-linejoin="round" stroke-linecap="butt"/>
<polyline points="856.0,1243.0 871.3,1240.6 886.6,1237.7 902.0,1233.9 917.3,1228.4 932.6,1221.3 947.9,1212.6 963.3,1202.7 978.6,1192.6 993.9,1183.6 1009.2,1177.3 1024.6,1174.5 1039.9,1175.3 1055.2,1179.0 1070.5,1184.3 1085.9,1189.6 1101.2,1193.9 1116.5,1196.7 1131.8,1197.8 1147.2,1197.3 1162.5,1195.8 1177.8,1193.8 1193.1,1191.4" fill="none" stroke="#ff0000" stroke-width="9.0" stroke-linejoin="round" stroke-linecap="butt"/>
<polyline points="1009.2,1220.8 1024.6,1218.1 1039.9,1214.8 1055.2,1210.8 1070.5,1205.5 1085.9,1198.2 1101.2,1188.5 1116.5,1176.0 1131.8,1161.0 1147.2,1144.4 1162.5,1128.3 1177.8,1114.9 1193.1,1106.2 1208.5,1103.5 1223.8,1106.7 1239.1,1114.8 1254.5,1126.3 1269.8,1138.3 1285.1,1148.9 1300.4,1157.2 1315.8,1162.6 1331.1,1165.6 1346.4,1166.7 1361.7,1166.4 1377.1,1165.4 1392.4,1163.8" fill="none" stroke="#ff0000" stroke-width="9.0" stroke-linejoin="round" stroke-linecap="butt"/>
<polyline points="687.4,1268.3 702.7,1265.4 718.0,1262.0 733.4,1257.5 748.7,1251.2 764.0,1242.1 779.3,1229.1 794.7,1211.2 810.0,1188.3 825.3,1161.3 840.6,1133.1 856.0,1106.7 871.3,1086.4 886.6,1075.4 902.0,1075.7 917.3,1086.4 932.6,1105.4 947.9,1128.7 963.3,1152.3 978.6,1173.2 993.9,1189.4 1009.2,1200.6 1024.6,1207.2 1039.9,1210.4 1055.2,1211.1 1070.5,1210.3 1085.9,1208.7 1101.2,1206.7" fill="none" stroke="#0000ff" stroke-width="9.0" stroke-linejoin="round" stroke-linecap="butt"/>
<polyline points="564.8,1286.4 580.1,1284.2 595.4,1282.0 610.8,1279.6 626.1,1277.2 641.4,1274.7 656.7,1272.3 672.1,1269.8 687.4,1267.3 702.7,1264.8 718.0,1262.3 733.4,1259.8 748.7,1257.3 764.0,1254.7 779.3,1252.1 794.7,1249.5 810.0,1246.9 825.3,1244.1 840.6,1241.8 856.0,1239.4 871.3,1236.5 886.6,1233.0 902.0,1228.2 917.3,1220.7 932.6,1209.4 947.9,1192.6 963.3,1168.2 978.6,1134.8 993.9,1092.1 1009.2,1042.1 1024.6,989.3 1039.9,940.4 1055.2,903.8 1070.5,886.7 1085.9,893.0 1101.2,920.4 1116.5,962.1 1131.8,1009.8 1147.2,1056.1 1162.5,1096.0 1177.8,1126.9 1193.1,1148.6 1208.5,1162.2 1223.8,1169.7 1239.1,1173.1 1254.5,1174.5 1269.8,1174.4 1285.1,1173.6 1300.4,1172.3 1315.8,1170.8 1331.1,1169.2 1346.4,1167.6 1361.7,1165.9 1377.1,1164.1 1392.4,1162.3 1407.7,1160.6 1423.0,1158.7 1438.4,1156.9 1453.7,1155.1 1469.0,1153.2 1484.3,1151.4 1499.7,1149.5 1515.0,1147.6 1530.3,1145.7" fill="none" stroke="#0000ff" stroke-width="9.0" stroke-linejoin="round" stroke-linecap="butt"/>
<polyline points="560.0,1287.8 562.0,1287.5 564.0,1287.2 566.0,1287.0 568.0,1286.7 570.0,1286.4 572.0,1286.1 574.0,1285.8 576.0,1285.6 578.0,1285.3 580.0,1285.0 582.0,1284.7 584.0,1284.4 586.0,1284.2 588.0,1283.9 590.0,1283.6 592.0,1283.3 594.0,1283.0 596.0,1282.8 598.0,1282.5 600.0,1282.2 602.0,1281.9 604.0,1281.6 606.0,1281.3 608.0,1281.0 610.0,1280.6 612.0,1280.3 614.0,1280.0 616.0,1279.7 618.0,1279.4 620.0,1279.1 622.0,1278.8 624.0,1278.5 626.0,1278.1 628.0,1277.8 630.0,1277.5 632.0,1277.2 634.0,1276.9 636.0,1276.6 638.0,1276.3 640.0,1276.0 642.0,1275.7 644.0,1275.3 646.0,1275.0 648.0,1274.7 650.0,1274.4 652.0,1274.1 654.0,1273.8 656.0,1273.5 658.0,1273.2 660.0,1272.8 662.0,1272.5 664.0,1272.2 666.0,1271.9 668.0,1271.6 670.0,1271.3 672.0,1271.0 674.0,1270.7 676.0,1270.4 678.0,1270.0 680.0,1269.7 682.0,1269.4 684.0,1269.1 686.0,1268.8 688.0,1268.5 690.0,1268.2 692.0,1267.9 694.0,1267.5 696.0,1267.2 698.0,1266.9 700.0,1266.6 702.0,1266.3 704.0,1266.0 706.0,1265.7 708.0,1265.4 710.0,1265.1 712.0,1264.7 714.0,1264.4 716.0,1264.1 718.0,1263.8 720.0,1263.5 722.0,1263.2 724.0,1262.9 726.0,1262.6 728.0,1262.2 730.0,1261.9 732.0,1261.6 734.0,1261.3 736.0,1261.0 738.0,1260.7 740.0,1260.4 742.0,1260.1 744.0,1259.8 746.0,1259.4 748.0,1259.1 750.0,1258.8 752.0,1258.5 754.0,1258.2 756.0,1257.9 758.0,1257.6 760.0,1257.3 762.0,1256.9 764.0,1256.6 766.0,1256.3 768.0,1256.0 770.0,1255.7 772.0,1255.4 774.0,1255.1 776.0,1254.8 778.0,1254.5 780.0,1254.1 782.0,1253.8 784.0,1253.5 786.0,1253.2 788.0,1252.9 790.0,1252.6 792.0,1252.3 794.0,1252.0 796.0,1251.6 798.0,1251.3 800.0,1251.0 802.0,1250.7 804.0,1250.4 806.0,1250.1 808.0,1249.8 810.0,1249.5 812.0,1249.2 814.0,1248.8 816.0,1248.5 818.0,1248.2 820.0,1247.9 822.0,1247.6 824.0,1247.3 826.0,1247.0 828.0,1246.7 830.0,1246.5 832.0,1246.2 834.0,1246.0 836.0,1245.8 838.0,1245.5 840.0,1245.3 842.0,1245.0 844.0,1244.8 846.0,1244.5 848.0,1244.3 850.0,1244.1 852.0,1243.8 854.0,1243.6 856.0,1243.3 858.0,1243.1 860.0,1242.9 862.0,1242.6 864.0,1242.4 866.0,1242.1 868.0,1241.9 870.0,1241.6 872.0,1241.4 874.0,1241.2 876.0,1240.9 878.0,1240.7 880.0,1240.4 882.0,1240.2 884.0,1239.9 886.0,1239.7 888.0,1239.5 890.0,1239.2 892.0,1239.0 894.0,1238.7 896.0,1238.5 898.0,1238.2 900.0,1238.0 902.0,1237.7 904.0,1237.4 906.0,1237.1 908.0,1236.8 910.0,1236.5 912.0,1236.1 914.0,1235.8 916.0,1235.5 918.0,1235.2 920.0,1234.9 922.0,1234.6 924.0,1234.3 926.0,1234.0 928.0,1233.7 930.0,1233.4 932.0,1233.1 934.0,1232.8 936.0,1232.4 938.0,1232.1 940.0,1231.8 942.0,1231.5 944.0,1231.2 946.0,1230.9 948.0,1230.6 950.0,1230.3 952.0,1230.0 954.0,1229.7 956.0,1229.4 958.0,1229.0 960.0,1228.7 962.0,1228.4 964.0,1228.1 966.0,1227.8 968.0,1227.5 970.0,1227.2 972.0,1226.9 974.0,1226.6 976.0,1226.3 978.0,1226.0 980.0,1225.7 982.0,1225.3 984.0,1225.0 986.0,1224.7 988.0,1224.4 990.0,1224.1 992.0,1223.8 994.0,1223.5 996.0,1223.2 998.0,1222.9 1000.0,1222.6 1002.0,1222.3 1004.0,1221.9 1006.0,1221.6 1008.0,1221.3 1010.0,1221.0 1012.0,1220.7 1014.0,1220.4 1016.0,1220.1 1018.0,1219.8 1020.0,1219.5 1022.0,1219.2 1024.0,1218.9 1026.0,1218.6 1028.0,1218.2 1030.0,1217.9 1032.0,1217.6 1034.0,1217.3 1036.0,1217.0 1038.0,1216.7 1040.0,1216.4 1042.0,1216.1 1044.0,1215.8 1046.0,1215.5 1048.0,1215.2 1050.0,1214.8 1052.0,1214.5 1054.0,1214.2 1056.0,1213.9 1058.0,1213.6 1060.0,1213.3 1062.0,1213.0 1064.0,1212.7 1066.0,1212.4 1068.0,1212.1 1070.0,1211.8 1072.0,1211.5 1074.0,1211.1 1076.0,1210.8 1078.0,1210.5 1080.0,1210.2 1082.0,1209.9 1084.0,1209.6 1086.0,1209.3 1088.0,1209.0 1090.0,1208.7 1092.0,1208.4 1094.0,1208.1 1096.0,1207.7 1098.0,1207.4 1100.0,1207.1 1102.0,1206.8 1104.0,1206.5 1106.0,1206.2 1108.0,1205.9 1110.0,1205.6 1112.0,1205.3 1114.0,1205.0 1116.0,1204.7 1118.0,1204.4 1120.0,1204.0 1122.0,1203.7 1124.0,1203.4 1126.0,1203.1 1128.0,1202.8 1130.0,1202.5 1132.0,1202.2 1134.0,1201.8 1136.0,1201.5 1138.0,1201.1 1140.0,1200.8 1142.0,1200.4 1144.0,1200.1 1146.0,1199.7 1148.0,1199.4 1150.0,1199.0 1152.0,1198.7 1154.0,1198.4 1156.0,1198.0 1158.0,1197.7 1160.0,1197.3 1162.0,1197.0 1164.0,1196.6 1166.0,1196.3 1168.0,1195.9 1170.0,1195.6 1172.0,1195.2 1174.0,1194.9 1176.0,1194.6 1178.0,1194.2 1180.0,1193.9 1182.0,1193.5 1184.0,1193.2 1186.0,1192.8 1188.0,1192.5 1190.0,1192.1 1192.0,1191.8 1194.0,1191.4 1196.0,1191.1 1198.0,1190.8 1200.0,1190.4 1202.0,1190.1 1204.0,1189.7 1206.0,1189.4 1208.0,1189.0 1210.0,1188.7 1212.0,1188.3 1214.0,1188.0 1216.0,1187.6 1218.0,1187.3 1220.0,1187.0 1222.0,1186.6 1224.0,1186.3 1226.0,1185.9 1228.0,1185.6 1230.0,1185.2 1232.0,1184.9 1234.0,1184.5 1236.0,1184.2 1238.0,1183.8 1240.0,1183.5 1242.0,1183.2 1244.0,1183.0 1246.0,1182.7 1248.0,1182.5 1250.0,1182.2 1252.0,1182.0 1254.0,1181.7 1256.0,1181.5 1258.0,1181.2 1260.0,1181.0 1262.0,1180.7 1264.0,1180.5 1266.0,1180.2 1268.0,1179.9 1270.0,1179.7 1272.0,1179.4 1274.0,1179.2 1276.0,1178.9 1278.0,1178.7 1280.0,1178.4 1282.0,1178.2 1284.0,1177.9 1286.0,1177.7 1288.0,1177.4 1290.0,1177.1 1292.0,1176.9 1294.0,1176.6 1296.0,1176.4 1298.0,1176.1 1300.0,1175.9 1302.0,1175.6 1304.0,1175.4 1306.0,1175.1 1308.0,1174.9 1310.0,1174.6 1312.0,1174.4 1314.0,1174.1 1316.0,1173.8 1318.0,1173.6 1320.0,1173.3 1322.0,1173.1 1324.0,1172.8 1326.0,1172.6 1328.0,1172.3 1330.0,1172.1 1332.0,1171.8 1334.0,1171.6 1336.0,1171.3 1338.0,1171.0 1340.0,1170.8 1342.0,1170.5 1344.0,1170.3 1346.0,1170.0 1348.0,1169.8 1350.0,1169.5 1352.0,1169.3 1354.0,1169.0 1356.0,1168.8 1358.0,1168.5 1360.0,1168.3 1362.0,1168.0 1364.0,1167.7 1366.0,1167.5 1368.0,1167.2 1370.0,1167.0 1372.0,1166.7 1374.0,1166.5 1376.0,1166.2 1378.0,1166.0 1380.0,1165.7 1382.0,1165.5 1384.0,1165.2 1386.0,1164.9 1388.0,1164.7 1390.0,1164.4 1392.0,1164.2 1394.0,1163.9 1396.0,1163.7 1398.0,1163.4 1400.0,1163.2 1402.0,1162.9 1404.0,1162.7 1406.0,1162.4 1408.0,1162.2 1410.0,1161.9 1412.0,1161.6 1414.0,1161.4 1416.0,1161.1 1418.0,1160.9 1420.0,1160.6 1422.0,1160.4 1424.0,1160.1 1426.0,1159.9 1428.0,1159.6 1430.0,1159.4 1432.0,1159.1 1434.0,1158.8 1436.0,1158.6 1438.0,1158.3 1440.0,1158.1 1442.0,1157.8 1444.0,1157.6 1446.0,1157.3 1448.0,1157.1 1450.0,1156.8 1452.0,1156.6 1454.0,1156.3 1456.0,1156.1 1458.0,1155.8 1460.0,1155.5 1462.0,1155.3 1464.0,1155.0 1466.0,1154.8 1468.0,1154.5 1470.0,1154.3 1472.0,1154.0 1474.0,1153.8 1476.0,1153.5 1478.0,1153.3 1480.0,1153.0 1482.0,1152.8 1484.0,1152.5 1486.0,1152.2 1488.0,1152.0 1490.0,1151.7 1492.0,1151.5 1494.0,1151.2 1496.0,1151.0 1498.0,1150.7 1500.0,1150.5 1502.0,1150.2 1504.0,1150.0 1506.0,1149.7 1508.0,1149.4 1510.0,1149.2 1512.0,1148.9 1514.0,1148.7 1516.0,1148.4 1518.0,1148.2 1520.0,1147.9 1522.0,1147.7 1524.0,1147.4 1526.0,1147.2 1528.0,1146.9 1530.0,1146.7 1532.0,1146.4 1534.0,1146.1 1536.0,1145.9 1538.0,1145.6 1540.0,1145.4 1542.0,1145.1" fill="none" stroke="#c4bcc4" stroke-width="4.5"/>
<polyline points="560.0,1291.6 562.0,1291.3 564.0,1291.0 566.0,1290.8 568.0,1290.5 570.0,1290.2 572.0,1289.9 574.0,1289.6 576.0,1289.4 578.0,1289.1 580.0,1288.8 582.0,1288.5 584.0,1288.2 586.0,1288.0 588.0,1287.7 590.0,1287.4 592.0,1287.1 594.0,1286.8 596.0,1286.6 598.0,1286.3 600.0,1286.0 602.0,1285.7 604.0,1285.4 606.0,1285.1 608.0,1284.8 610.0,1284.4 612.0,1284.1 614.0,1283.8 616.0,1283.5 618.0,1283.2 620.0,1282.9 622.0,1282.6 624.0,1282.3 626.0,1281.9 628.0,1281.6 630.0,1281.3 632.0,1281.0 634.0,1280.7 636.0,1280.4 638.0,1280.1 640.0,1279.8 642.0,1279.5 644.0,1279.1 646.0,1278.8 648.0,1278.5 650.0,1278.2 652.0,1277.9 654.0,1277.6 656.0,1277.3 658.0,1277.0 660.0,1276.6 662.0,1276.3 664.0,1276.0 666.0,1275.7 668.0,1275.4 670.0,1275.1 672.0,1274.8 674.0,1274.5 676.0,1274.2 678.0,1273.8 680.0,1273.5 682.0,1273.2 684.0,1272.9 686.0,1272.6 688.0,1272.3 690.0,1272.0 692.0,1271.7 694.0,1271.3 696.0,1271.0 698.0,1270.7 700.0,1270.4 702.0,1270.1 704.0,1269.8 706.0,1269.5 708.0,1269.2 710.0,1268.9 712.0,1268.5 714.0,1268.2 716.0,1267.9 718.0,1267.6 720.0,1267.3 722.0,1267.0 724.0,1266.7 726.0,1266.4 728.0,1266.0 730.0,1265.7 732.0,1265.4 734.0,1265.1 736.0,1264.8 738.0,1264.5 740.0,1264.2 742.0,1263.9 744.0,1263.6 746.0,1263.2 748.0,1262.9 750.0,1262.6 752.0,1262.3 754.0,1262.0 756.0,1261.7 758.0,1261.4 760.0,1261.1 762.0,1260.7 764.0,1260.4 766.0,1260.1 768.0,1259.8 770.0,1259.5 772.0,1259.2 774.0,1258.9 776.0,1258.6 778.0,1258.3 780.0,1257.9 782.0,1257.6 784.0,1257.3 786.0,1257.0 788.0,1256.7 790.0,1256.4 792.0,1256.1 794.0,1255.8 796.0,1255.4 798.0,1255.1 800.0,1254.8 802.0,1254.5 804.0,1254.2 806.0,1253.9 808.0,1253.6 810.0,1253.3 812.0,1253.0 814.0,1252.6 816.0,1252.3 818.0,1252.0 820.0,1251.7 822.0,1251.4 824.0,1251.1 826.0,1250.8 828.0,1250.5 830.0,1250.3 832.0,1250.0 834.0,1249.8 836.0,1249.6 838.0,1249.3 840.0,1249.1 842.0,1248.8 844.0,1248.6 846.0,1248.3 848.0,1248.1 850.0,1247.9 852.0,1247.6 854.0,1247.4 856.0,1247.1 858.0,1246.9 860.0,1246.7 862.0,1246.4 864.0,1246.2 866.0,1245.9 868.0,1245.7 870.0,1245.4 872.0,1245.2 874.0,1245.0 876.0,1244.7 878.0,1244.5 880.0,1244.2 882.0,1244.0 884.0,1243.7 886.0,1243.5 888.0,1243.3 890.0,1243.0 892.0,1242.8 894.0,1242.5 896.0,1242.3 898.0,1242.0 900.0,1241.8 902.0,1241.5 904.0,1241.2 906.0,1240.9 908.0,1240.6 910.0,1240.3 912.0,1239.9 914.0,1239.6 916.0,1239.3 918.0,1239.0 920.0,1238.7 922.0,1238.4 924.0,1238.1 926.0,1237.8 928.0,1237.5 930.0,1237.2 932.0,1236.9 934.0,1236.6 936.0,1236.2 938.0,1235.9 940.0,1235.6 942.0,1235.3 944.0,1235.0 946.0,1234.7 948.0,1234.4 950.0,1234.1 952.0,1233.8 954.0,1233.5 956.0,1233.2 958.0,1232.8 960.0,1232.5 962.0,1232.2 964.0,1231.9 966.0,1231.6 968.0,1231.3 970.0,1231.0 972.0,1230.7 974.0,1230.4 976.0,1230.1 978.0,1229.8 980.0,1229.5 982.0,1229.1 984.0,1228.8 986.0,1228.5 988.0,1228.2 990.0,1227.9 992.0,1227.6 994.0,1227.3 996.0,1227.0 998.0,1226.7 1000.0,1226.4 1002.0,1226.1 1004.0,1225.7 1006.0,1225.4 1008.0,1225.1 1010.0,1224.8 1012.0,1224.5 1014.0,1224.2 1016.0,1223.9 1018.0,1223.6 1020.0,1223.3 1022.0,1223.0 1024.0,1222.7 1026.0,1222.4 1028.0,1222.0 1030.0,1221.7 1032.0,1221.4 1034.0,1221.1 1036.0,1220.8 1038.0,1220.5 1040.0,1220.2 1042.0,1219.9 1044.0,1219.6 1046.0,1219.3 1048.0,1219.0 1050.0,1218.6 1052.0,1218.3 1054.0,1218.0 1056.0,1217.7 1058.0,1217.4 1060.0,1217.1 1062.0,1216.8 1064.0,1216.5 1066.0,1216.2 1068.0,1215.9 1070.0,1215.6 1072.0,1215.3 1074.0,1214.9 1076.0,1214.6 1078.0,1214.3 1080.0,1214.0 1082.0,1213.7 1084.0,1213.4 1086.0,1213.1 1088.0,1212.8 1090.0,1212.5 1092.0,1212.2 1094.0,1211.9 1096.0,1211.5 1098.0,1211.2 1100.0,1210.9 1102.0,1210.6 1104.0,1210.3 1106.0,1210.0 1108.0,1209.7 1110.0,1209.4 1112.0,1209.1 1114.0,1208.8 1116.0,1208.5 1118.0,1208.2 1120.0,1207.8 1122.0,1207.5 1124.0,1207.2 1126.0,1206.9 1128.0,1206.6 1130.0,1206.3 1132.0,1206.0 1134.0,1205.6 1136.0,1205.3 1138.0,1204.9 1140.0,1204.6 1142.0,1204.2 1144.0,1203.9 1146.0,1203.5 1148.0,1203.2 1150.0,1202.8 1152.0,1202.5 1154.0,1202.2 1156.0,1201.8 1158.0,1201.5 1160.0,1201.1 1162.0,1200.8 1164.0,1200.4 1166.0,1200.1 1168.0,1199.7 1170.0,1199.4 1172.0,1199.0 1174.0,1198.7 1176.0,1198.4 1178.0,1198.0 1180.0,1197.7 1182.0,1197.3 1184.0,1197.0 1186.0,1196.6 1188.0,1196.3 1190.0,1195.9 1192.0,1195.6 1194.0,1195.2 1196.0,1194.9 1198.0,1194.6 1200.0,1194.2 1202.0,1193.9 1204.0,1193.5 1206.0,1193.2 1208.0,1192.8 1210.0,1192.5 1212.0,1192.1 1214.0,1191.8 1216.0,1191.4 1218.0,1191.1 1220.0,1190.8 1222.0,1190.4 1224.0,1190.1 1226.0,1189.7 1228.0,1189.4 1230.0,1189.0 1232.0,1188.7 1234.0,1188.3 1236.0,1188.0 1238.0,1187.6 1240.0,1187.3 1242.0,1187.0 1244.0,1186.8 1246.0,1186.5 1248.0,1186.3 1250.0,1186.0 1252.0,1185.8 1254.0,1185.5 1256.0,1185.3 1258.0,1185.0 1260.0,1184.8 1262.0,1184.5 1264.0,1184.3 1266.0,1184.0 1268.0,1183.7 1270.0,1183.5 1272.0,1183.2 1274.0,1183.0 1276.0,1182.7 1278.0,1182.5 1280.0,1182.2 1282.0,1182.0 1284.0,1181.7 1286.0,1181.5 1288.0,1181.2 1290.0,1180.9 1292.0,1180.7 1294.0,1180.4 1296.0,1180.2 1298.0,1179.9 1300.0,1179.7 1302.0,1179.4 1304.0,1179.2 1306.0,1178.9 1308.0,1178.7 1310.0,1178.4 1312.0,1178.2 1314.0,1177.9 1316.0,1177.6 1318.0,1177.4 1320.0,1177.1 1322.0,1176.9 1324.0,1176.6 1326.0,1176.4 1328.0,1176.1 1330.0,1175.9 1332.0,1175.6 1334.0,1175.4 1336.0,1175.1 1338.0,1174.8 1340.0,1174.6 1342.0,1174.3 1344.0,1174.1 1346.0,1173.8 1348.0,1173.6 1350.0,1173.3 1352.0,1173.1 1354.0,1172.8 1356.0,1172.6 1358.0,1172.3 1360.0,1172.1 1362.0,1171.8 1364.0,1171.5 1366.0,1171.3 1368.0,1171.0 1370.0,1170.8 1372.0,1170.5 1374.0,1170.3 1376.0,1170.0 1378.0,1169.8 1380.0,1169.5 1382.0,1169.3 1384.0,1169.0 1386.0,1168.7 1388.0,1168.5 1390.0,1168.2 1392.0,1168.0 1394.0,1167.7 1396.0,1167.5 1398.0,1167.2 1400.0,1167.0 1402.0,1166.7 1404.0,1166.5 1406.0,1166.2 1408.0,1166.0 1410.0,1165.7 1412.0,1165.4 1414.0,1165.2 1416.0,1164.9 1418.0,1164.7 1420.0,1164.4 1422.0,1164.2 1424.0,1163.9 1426.0,1163.7 1428.0,1163.4 1430.0,1163.2 1432.0,1162.9 1434.0,1162.6 1436.0,1162.4 1438.0,1162.1 1440.0,1161.9 1442.0,1161.6 1444.0,1161.4 1446.0,1161.1 1448.0,1160.9 1450.0,1160.6 1452.0,1160.4 1454.0,1160.1 1456.0,1159.9 1458.0,1159.6 1460.0,1159.3 1462.0,1159.1 1464.0,1158.8 1466.0,1158.6 1468.0,1158.3 1470.0,1158.1 1472.0,1157.8 1474.0,1157.6 1476.0,1157.3 1478.0,1157.1 1480.0,1156.8 1482.0,1156.6 1484.0,1156.3 1486.0,1156.0 1488.0,1155.8 1490.0,1155.5 1492.0,1155.3 1494.0,1155.0 1496.0,1154.8 1498.0,1154.5 1500.0,1154.3 1502.0,1154.0 1504.0,1153.8 1506.0,1153.5 1508.0,1153.2 1510.0,1153.0 1512.0,1152.7 1514.0,1152.5 1516.0,1152.2 1518.0,1152.0 1520.0,1151.7 1522.0,1151.5 1524.0,1151.2 1526.0,1151.0 1528.0,1150.7 1530.0,1150.5 1532.0,1150.2 1534.0,1149.9 1536.0,1149.7 1538.0,1149.4 1540.0,1149.2 1542.0,1148.9" fill="none" stroke="#22e868" stroke-width="2.6" stroke-dasharray="10 6"/>
<polyline points="560.0,1284.2 562.0,1283.9 564.0,1283.6 566.0,1283.4 568.0,1283.1 570.0,1282.8 572.0,1282.5 574.0,1282.2 576.0,1282.0 578.0,1281.7 580.0,1281.4 582.0,1281.1 584.0,1280.8 586.0,1280.6 588.0,1280.3 590.0,1280.0 592.0,1279.7 594.0,1279.4 596.0,1279.2 598.0,1278.9 600.0,1278.6 602.0,1278.3 604.0,1278.0 606.0,1277.7 608.0,1277.4 610.0,1277.0 612.0,1276.7 614.0,1276.4 616.0,1276.1 618.0,1275.8 620.0,1275.5 622.0,1275.2 624.0,1274.9 626.0,1274.5 628.0,1274.2 630.0,1273.9 632.0,1273.6 634.0,1273.3 636.0,1273.0 638.0,1272.7 640.0,1272.4 642.0,1272.1 644.0,1271.7 646.0,1271.4 648.0,1271.1 650.0,1270.8 652.0,1270.5 654.0,1270.2 656.0,1269.9 658.0,1269.6 660.0,1269.2 662.0,1268.9 664.0,1268.6 666.0,1268.3 668.0,1268.0 670.0,1267.7 672.0,1267.4 674.0,1267.1 676.0,1266.8 678.0,1266.4 680.0,1266.1 682.0,1265.8 684.0,1265.5 686.0,1265.2 688.0,1264.9 690.0,1264.6 692.0,1264.3 694.0,1263.9 696.0,1263.6 698.0,1263.3 700.0,1263.0 702.0,1262.7 704.0,1262.4 706.0,1262.1 708.0,1261.8 710.0,1261.5 712.0,1261.1 714.0,1260.8 716.0,1260.5 718.0,1260.2 720.0,1259.9 722.0,1259.6 724.0,1259.3 726.0,1259.0 728.0,1258.6 730.0,1258.3 732.0,1258.0 734.0,1257.7 736.0,1257.4 738.0,1257.1 740.0,1256.8 742.0,1256.5 744.0,1256.2 746.0,1255.8 748.0,1255.5 750.0,1255.2 752.0,1254.9 754.0,1254.6 756.0,1254.3 758.0,1254.0 760.0,1253.7 762.0,1253.3 764.0,1253.0 766.0,1252.7 768.0,1252.4 770.0,1252.1 772.0,1251.8 774.0,1251.5 776.0,1251.2 778.0,1250.9 780.0,1250.5 782.0,1250.2 784.0,1249.9 786.0,1249.6 788.0,1249.3 790.0,1249.0 792.0,1248.7 794.0,1248.4 796.0,1248.0 798.0,1247.7 800.0,1247.4 802.0,1247.1 804.0,1246.8 806.0,1246.5 808.0,1246.2 810.0,1245.9 812.0,1245.6 814.0,1245.2 816.0,1244.9 818.0,1244.6 820.0,1244.3 822.0,1244.0 824.0,1243.7 826.0,1243.4 828.0,1243.1 830.0,1242.9 832.0,1242.6 834.0,1242.4 836.0,1242.2 838.0,1241.9 840.0,1241.7 842.0,1241.4 844.0,1241.2 846.0,1240.9 848.0,1240.7 850.0,1240.5 852.0,1240.2 854.0,1240.0 856.0,1239.7 858.0,1239.5 860.0,1239.3 862.0,1239.0 864.0,1238.8 866.0,1238.5 868.0,1238.3 870.0,1238.0 872.0,1237.8 874.0,1237.6 876.0,1237.3 878.0,1237.1 880.0,1236.8 882.0,1236.6 884.0,1236.3 886.0,1236.1 888.0,1235.9 890.0,1235.6 892.0,1235.4 894.0,1235.1 896.0,1234.9 898.0,1234.6 900.0,1234.4 902.0,1234.1 904.0,1233.8 906.0,1233.5 908.0,1233.2 910.0,1232.9 912.0,1232.5 914.0,1232.2 916.0,1231.9 918.0,1231.6 920.0,1231.3 922.0,1231.0 924.0,1230.7 926.0,1230.4 928.0,1230.1 930.0,1229.8 932.0,1229.5 934.0,1229.2 936.0,1228.8 938.0,1228.5 940.0,1228.2 942.0,1227.9 944.0,1227.6 946.0,1227.3 948.0,1227.0 950.0,1226.7 952.0,1226.4 954.0,1226.1 956.0,1225.8 958.0,1225.4 960.0,1225.1 962.0,1224.8 964.0,1224.5 966.0,1224.2 968.0,1223.9 970.0,1223.6 972.0,1223.3 974.0,1223.0 976.0,1222.7 978.0,1222.4 980.0,1222.1 982.0,1221.7 984.0,1221.4 986.0,1221.1 988.0,1220.8 990.0,1220.5 992.0,1220.2 994.0,1219.9 996.0,1219.6 998.0,1219.3 1000.0,1219.0 1002.0,1218.7 1004.0,1218.3 1006.0,1218.0 1008.0,1217.7 1010.0,1217.4 1012.0,1217.1 1014.0,1216.8 1016.0,1216.5 1018.0,1216.2 1020.0,1215.9 1022.0,1215.6 1024.0,1215.3 1026.0,1215.0 1028.0,1214.6 1030.0,1214.3 1032.0,1214.0 1034.0,1213.7 1036.0,1213.4 1038.0,1213.1 1040.0,1212.8 1042.0,1212.5 1044.0,1212.2 1046.0,1211.9 1048.0,1211.6 1050.0,1211.2 1052.0,1210.9 1054.0,1210.6 1056.0,1210.3 1058.0,1210.0 1060.0,1209.7 1062.0,1209.4 1064.0,1209.1 1066.0,1208.8 1068.0,1208.5 1070.0,1208.2 1072.0,1207.9 1074.0,1207.5 1076.0,1207.2 1078.0,1206.9 1080.0,1206.6 1082.0,1206.3 1084.0,1206.0 1086.0,1205.7 1088.0,1205.4 1090.0,1205.1 1092.0,1204.8 1094.0,1204.5 1096.0,1204.1 1098.0,1203.8 1100.0,1203.5 1102.0,1203.2 1104.0,1202.9 1106.0,1202.6 1108.0,1202.3 1110.0,1202.0 1112.0,1201.7 1114.0,1201.4 1116.0,1201.1 1118.0,1200.8 1120.0,1200.4 1122.0,1200.1 1124.0,1199.8 1126.0,1199.5 1128.0,1199.2 1130.0,1198.9 1132.0,1198.6 1134.0,1198.2 1136.0,1197.9 1138.0,1197.5 1140.0,1197.2 1142.0,1196.8 1144.0,1196.5 1146.0,1196.1 1148.0,1195.8 1150.0,1195.4 1152.0,1195.1 1154.0,1194.8 1156.0,1194.4 1158.0,1194.1 1160.0,1193.7 1162.0,1193.4 1164.0,1193.0 1166.0,1192.7 1168.0,1192.3 1170.0,1192.0 1172.0,1191.6 1174.0,1191.3 1176.0,1191.0 1178.0,1190.6 1180.0,1190.3 1182.0,1189.9 1184.0,1189.6 1186.0,1189.2 1188.0,1188.9 1190.0,1188.5 1192.0,1188.2 1194.0,1187.8 1196.0,1187.5 1198.0,1187.2 1200.0,1186.8 1202.0,1186.5 1204.0,1186.1 1206.0,1185.8 1208.0,1185.4 1210.0,1185.1 1212.0,1184.7 1214.0,1184.4 1216.0,1184.0 1218.0,1183.7 1220.0,1183.4 1222.0,1183.0 1224.0,1182.7 1226.0,1182.3 1228.0,1182.0 1230.0,1181.6 1232.0,1181.3 1234.0,1180.9 1236.0,1180.6 1238.0,1180.2 1240.0,1179.9 1242.0,1179.6 1244.0,1179.4 1246.0,1179.1 1248.0,1178.9 1250.0,1178.6 1252.0,1178.4 1254.0,1178.1 1256.0,1177.9 1258.0,1177.6 1260.0,1177.4 1262.0,1177.1 1264.0,1176.9 1266.0,1176.6 1268.0,1176.3 1270.0,1176.1 1272.0,1175.8 1274.0,1175.6 1276.0,1175.3 1278.0,1175.1 1280.0,1174.8 1282.0,1174.6 1284.0,1174.3 1286.0,1174.1 1288.0,1173.8 1290.0,1173.5 1292.0,1173.3 1294.0,1173.0 1296.0,1172.8 1298.0,1172.5 1300.0,1172.3 1302.0,1172.0 1304.0,1171.8 1306.0,1171.5 1308.0,1171.3 1310.0,1171.0 1312.0,1170.8 1314.0,1170.5 1316.0,1170.2 1318.0,1170.0 1320.0,1169.7 1322.0,1169.5 1324.0,1169.2 1326.0,1169.0 1328.0,1168.7 1330.0,1168.5 1332.0,1168.2 1334.0,1168.0 1336.0,1167.7 1338.0,1167.4 1340.0,1167.2 1342.0,1166.9 1344.0,1166.7 1346.0,1166.4 1348.0,1166.2 1350.0,1165.9 1352.0,1165.7 1354.0,1165.4 1356.0,1165.2 1358.0,1164.9 1360.0,1164.7 1362.0,1164.4 1364.0,1164.1 1366.0,1163.9 1368.0,1163.6 1370.0,1163.4 1372.0,1163.1 1374.0,1162.9 1376.0,1162.6 1378.0,1162.4 1380.0,1162.1 1382.0,1161.9 1384.0,1161.6 1386.0,1161.3 1388.0,1161.1 1390.0,1160.8 1392.0,1160.6 1394.0,1160.3 1396.0,1160.1 1398.0,1159.8 1400.0,1159.6 1402.0,1159.3 1404.0,1159.1 1406.0,1158.8 1408.0,1158.6 1410.0,1158.3 1412.0,1158.0 1414.0,1157.8 1416.0,1157.5 1418.0,1157.3 1420.0,1157.0 1422.0,1156.8 1424.0,1156.5 1426.0,1156.3 1428.0,1156.0 1430.0,1155.8 1432.0,1155.5 1434.0,1155.2 1436.0,1155.0 1438.0,1154.7 1440.0,1154.5 1442.0,1154.2 1444.0,1154.0 1446.0,1153.7 1448.0,1153.5 1450.0,1153.2 1452.0,1153.0 1454.0,1152.7 1456.0,1152.5 1458.0,1152.2 1460.0,1151.9 1462.0,1151.7 1464.0,1151.4 1466.0,1151.2 1468.0,1150.9 1470.0,1150.7 1472.0,1150.4 1474.0,1150.2 1476.0,1149.9 1478.0,1149.7 1480.0,1149.4 1482.0,1149.2 1484.0,1148.9 1486.0,1148.6 1488.0,1148.4 1490.0,1148.1 1492.0,1147.9 1494.0,1147.6 1496.0,1147.4 1498.0,1147.1 1500.0,1146.9 1502.0,1146.6 1504.0,1146.4 1506.0,1146.1 1508.0,1145.8 1510.0,1145.6 1512.0,1145.3 1514.0,1145.1 1516.0,1144.8 1518.0,1144.6 1520.0,1144.3 1522.0,1144.1 1524.0,1143.8 1526.0,1143.6 1528.0,1143.3 1530.0,1143.1 1532.0,1142.8 1534.0,1142.5 1536.0,1142.3 1538.0,1142.0 1540.0,1141.8 1542.0,1141.5" fill="none" stroke="#30e070" stroke-width="2.4" stroke-dasharray="8 8"/>
<polyline points="255.3,1338.6 258.3,1337.9 273.6,1334.7 288.9,1331.8 304.2,1329.2 319.6,1326.9 334.9,1324.8 350.2,1322.8 365.5,1321.0 380.9,1319.2 396.2,1317.5 411.5,1315.7 426.8,1313.8 442.2,1311.8 457.5,1309.7 472.8,1307.3 488.2,1304.7 503.5,1301.7 518.8,1298.4 534.1,1294.7 549.5,1290.5 564.8,1285.8 580.1,1280.6 595.4,1274.8 610.8,1268.3 626.1,1261.2 641.4,1253.3 656.7,1244.8 672.1,1236.3 687.4,1228.6 702.7,1222.1 718.0,1217.7 733.4,1214.6 748.7,1209.2 764.0,1199.0 779.3,1183.3 794.7,1161.4 810.0,1132.9 825.3,1099.3 840.6,1065.4 856.0,1036.0 871.3,1014.1 886.6,1001.0 902.0,998.2 917.3,1005.2 932.6,1016.7 947.9,1027.4 963.3,1031.7 978.6,1024.0 993.9,1001.8 1009.2,967.6 1024.6,925.0 1039.9,882.5 1055.2,852.9 1070.5,843.7 1085.9,854.1 1101.2,881.8 1116.5,920.5 1131.8,962.1 1147.2,998.6 1162.5,1026.2 1177.8,1047.0 1193.1,1063.5 1208.5,1078.1 1223.8,1093.1 1239.1,1108.2 1254.5,1122.7 1269.8,1135.9 1285.1,1146.9 1300.4,1155.0 1315.8,1160.4 1331.1,1163.3 1346.4,1164.4 1361.7,1164.1 1377.1,1162.9 1392.4,1161.0 1407.7,1158.5 1423.0,1155.8 1438.4,1152.8 1453.7,1149.8 1469.0,1146.9 1484.3,1144.2 1499.7,1142.0 1515.0,1140.3 1530.3,1139.3 1535.7,1139.1" fill="none" stroke="#000" stroke-width="9.3" stroke-linejoin="round" stroke-linecap="round"/>
<g fill="none" stroke="#2a2a2a" stroke-width="2.7"><circle cx="210.5" cy="2033.8" r="13.4"/><circle cx="225.1" cy="2029.8" r="13.4"/><circle cx="242.3" cy="2027.2" r="13.4"/><circle cx="258.2" cy="2006.0" r="13.4"/><circle cx="274.1" cy="2023.2" r="13.4"/><circle cx="288.7" cy="1972.8" r="13.4"/><circle cx="304.6" cy="2002.0" r="13.4"/><circle cx="319.2" cy="2028.5" r="13.4"/><circle cx="333.8" cy="1992.7" r="13.4"/><circle cx="348.4" cy="1983.4" r="13.4"/><circle cx="365.6" cy="1979.4" r="13.4"/><circle cx="380.2" cy="1996.7" r="13.4"/><circle cx="396.1" cy="1991.4" r="13.4"/><circle cx="412.0" cy="1967.5" r="13.4"/><circle cx="426.6" cy="1994.0" r="13.4"/><circle cx="441.2" cy="1986.1" r="13.4"/><circle cx="457.1" cy="1996.7" r="13.4"/><circle cx="473.0" cy="1971.5" r="13.4"/><circle cx="487.6" cy="1990.0" r="13.4"/><circle cx="503.5" cy="1982.1" r="13.4"/><circle cx="519.4" cy="1994.0" r="13.4"/><circle cx="534.0" cy="1964.9" r="13.4"/><circle cx="549.9" cy="1982.1" r="13.4"/><circle cx="564.5" cy="1956.9" r="13.4"/><circle cx="580.4" cy="1942.3" r="13.4"/><circle cx="593.7" cy="1956.9" r="13.4"/><circle cx="626.0" cy="1923.0" r="13.4"/><circle cx="642.1" cy="1900.2" r="13.4"/><circle cx="653.4" cy="1919.2" r="13.4"/><circle cx="673.3" cy="1921.1" r="13.4"/><circle cx="683.8" cy="1945.7" r="13.4"/><circle cx="703.6" cy="1926.7" r="13.4"/><circle cx="729.2" cy="1924.8" r="13.4"/><circle cx="743.4" cy="1917.3" r="13.4"/><circle cx="758.6" cy="1909.7" r="13.4"/><circle cx="776.6" cy="1865.2" r="13.4"/><circle cx="789.8" cy="1854.8" r="13.4"/><circle cx="799.3" cy="1849.1" r="13.4"/><circle cx="824.8" cy="1828.3" r="13.4"/><circle cx="841.9" cy="1803.6" r="13.4"/><circle cx="857.0" cy="1779.0" r="13.4"/><circle cx="872.2" cy="1763.9" r="13.4"/><circle cx="883.6" cy="1744.9" r="13.4"/><circle cx="900.3" cy="1726.9" r="13.4"/><circle cx="913.6" cy="1770.5" r="13.4"/><circle cx="924.9" cy="1759.1" r="13.4"/><circle cx="934.4" cy="1770.5" r="13.4"/><circle cx="945.8" cy="1781.8" r="13.4"/><circle cx="962.8" cy="1766.7" r="13.4"/><circle cx="991.2" cy="1709.8" r="13.4"/><circle cx="1010.2" cy="1713.6" r="13.4"/><circle cx="1019.6" cy="1662.5" r="13.4"/><circle cx="1036.7" cy="1620.8" r="13.4"/><circle cx="1056.6" cy="1609.5" r="13.4"/><circle cx="1074.5" cy="1624.6" r="13.4"/><circle cx="1080.2" cy="1656.8" r="13.4"/><circle cx="1104.8" cy="1649.2" r="13.4"/><circle cx="1121.9" cy="1677.7" r="13.4"/><circle cx="1127.6" cy="1742.0" r="13.4"/><circle cx="1144.6" cy="1789.4" r="13.4"/><circle cx="1158.8" cy="1823.5" r="13.4"/><circle cx="1191.4" cy="1785.2" r="13.4"/><circle cx="1204.4" cy="1849.9" r="13.4"/><circle cx="1218.6" cy="1857.7" r="13.4"/><circle cx="1243.2" cy="1857.7" r="13.4"/><circle cx="1270.4" cy="1861.5" r="13.4"/><circle cx="1285.9" cy="1871.9" r="13.4"/><circle cx="1297.6" cy="1879.7" r="13.4"/><circle cx="1315.7" cy="1875.8" r="13.4"/><circle cx="1331.2" cy="1899.1" r="13.4"/><circle cx="1346.7" cy="1879.7" r="13.4"/><circle cx="1362.3" cy="1913.3" r="13.4"/><circle cx="1375.2" cy="1869.3" r="13.4"/><circle cx="1392.0" cy="1873.2" r="13.4"/><circle cx="1406.3" cy="1852.5" r="13.4"/><circle cx="1423.1" cy="1852.5" r="13.4"/><circle cx="1438.6" cy="1900.4" r="13.4"/><circle cx="1454.2" cy="1853.8" r="13.4"/><circle cx="1468.4" cy="1870.6" r="13.4"/><circle cx="1483.9" cy="1875.8" r="13.4"/><circle cx="1496.9" cy="1873.2" r="13.4"/><circle cx="1515.0" cy="1878.4" r="13.4"/><circle cx="1529.2" cy="1912.0" r="13.4"/><circle cx="1538.3" cy="1865.4" r="13.4"/></g>
<polyline points="564.8,1971.9 580.1,1964.8 595.4,1956.2 610.8,1947.1 626.1,1938.6 641.4,1932.3 656.7,1929.2 672.1,1929.7 687.4,1933.3 702.7,1938.6 718.0,1944.3 733.4,1949.0 748.7,1952.3 764.0,1954.0 779.3,1954.5 794.7,1954.0 810.0,1953.0" fill="none" stroke="#00ff00" stroke-width="10.0" stroke-linejoin="round" stroke-linecap="butt"/>
<polyline points="610.8,1975.1 626.1,1973.2 641.4,1971.0 656.7,1968.5 672.1,1965.4 687.4,1961.3 702.7,1956.1 718.0,1949.2 733.4,1940.5 748.7,1930.1 764.0,1918.2 779.3,1905.7 794.7,1893.7 810.0,1883.3 825.3,1876.0 840.6,1872.4 856.0,1873.0 871.3,1877.3 886.6,1884.6 902.0,1893.5 917.3,1902.8 932.6,1911.4 947.9,1918.6 963.3,1923.8 978.6,1927.0 993.9,1928.6 1009.2,1929.0 1024.6,1928.5 1039.9,1927.4 1055.2,1925.9" fill="none" stroke="#00ff00" stroke-width="10.0" stroke-linejoin="round" stroke-linecap="butt"/>
<polyline points="856.0,1948.4 871.3,1946.4 886.6,1944.0 902.0,1940.9 917.3,1937.0 932.6,1932.2 947.9,1926.6 963.3,1920.9 978.6,1915.5 993.9,1911.5 1009.2,1909.5 1024.6,1909.5 1039.9,1911.0 1055.2,1913.2 1070.5,1915.3 1085.9,1916.8 1101.2,1917.3 1116.5,1917.0 1131.8,1916.0 1147.2,1914.6" fill="none" stroke="#ff0000" stroke-width="9.0" stroke-linejoin="round" stroke-linecap="butt"/>
<polyline points="993.9,1933.7 1009.2,1931.5 1024.6,1929.1 1039.9,1926.3 1055.2,1922.9 1070.5,1918.7 1085.9,1913.5 1101.2,1907.0 1116.5,1899.6 1131.8,1891.3 1147.2,1883.0 1162.5,1875.7 1177.8,1870.1 1193.1,1866.6 1208.5,1865.8 1223.8,1867.4 1239.1,1871.0 1254.5,1875.8 1269.8,1880.9 1285.1,1885.7 1300.4,1889.6 1315.8,1892.4 1331.1,1894.0 1346.4,1894.6 1361.7,1894.5 1377.1,1893.6 1392.4,1892.4" fill="none" stroke="#ff0000" stroke-width="9.0" stroke-linejoin="round" stroke-linecap="butt"/>
<polyline points="733.4,1961.2 748.7,1958.8 764.0,1955.3 779.3,1949.4 794.7,1938.9 810.0,1921.6 825.3,1896.7 840.6,1866.3 856.0,1836.4 871.3,1815.2 886.6,1809.3 902.0,1820.4 917.3,1843.9 932.6,1871.9 947.9,1896.9 963.3,1914.7 978.6,1924.9 993.9,1929.4 1009.2,1930.3 1024.6,1929.6 1039.9,1928.1" fill="none" stroke="#0000ff" stroke-width="9.0" stroke-linejoin="round" stroke-linecap="butt"/>
<polyline points="564.8,1979.4 580.1,1977.6 595.4,1975.8 610.8,1974.0 626.1,1972.2 641.4,1970.4 656.7,1968.5 672.1,1966.7 687.4,1964.8 702.7,1962.9 718.0,1961.1 733.4,1959.1 748.7,1957.2 764.0,1955.2 779.3,1953.3 794.7,1951.4 810.0,1949.3 825.3,1947.0 840.6,1944.4 856.0,1941.1 871.3,1936.8 886.6,1930.8 902.0,1922.4 917.3,1910.4 932.6,1893.8 947.9,1871.8 963.3,1843.8 978.6,1810.0 993.9,1772.4 1009.2,1733.7 1024.6,1697.8 1039.9,1669.2 1055.2,1652.4 1070.5,1650.2 1085.9,1662.7 1101.2,1687.2 1116.5,1719.1 1131.8,1754.0 1147.2,1787.9 1162.5,1818.5 1177.8,1843.8 1193.1,1863.1 1208.5,1877.0 1223.8,1886.2 1239.1,1891.9 1254.5,1895.0 1269.8,1896.5 1285.1,1896.8 1300.4,1896.6 1315.8,1896.0 1331.1,1895.2 1346.4,1894.2 1361.7,1893.1 1377.1,1891.8 1392.4,1890.4 1407.7,1889.0 1423.0,1887.6 1438.4,1886.1 1453.7,1884.6 1469.0,1883.2 1484.3,1881.7 1499.7,1880.1 1515.0,1878.6 1530.3,1877.1" fill="none" stroke="#0000ff" stroke-width="9.0" stroke-linejoin="round" stroke-linecap="butt"/>
<polyline points="560.0,1981.0 562.0,1980.8 564.0,1980.6 566.0,1980.3 568.0,1980.1 570.0,1979.9 572.0,1979.7 574.0,1979.4 576.0,1979.2 578.0,1979.0 580.0,1978.8 582.0,1978.5 584.0,1978.3 586.0,1978.1 588.0,1977.9 590.0,1977.6 592.0,1977.4 594.0,1977.2 596.0,1977.0 598.0,1976.7 600.0,1976.5 602.0,1976.3 604.0,1976.1 606.0,1975.8 608.0,1975.6 610.0,1975.4 612.0,1975.2 614.0,1974.9 616.0,1974.7 618.0,1974.5 620.0,1974.3 622.0,1974.0 624.0,1973.8 626.0,1973.6 628.0,1973.4 630.0,1973.1 632.0,1972.9 634.0,1972.7 636.0,1972.5 638.0,1972.2 640.0,1972.0 642.0,1971.8 644.0,1971.6 646.0,1971.3 648.0,1971.1 650.0,1970.9 652.0,1970.7 654.0,1970.4 656.0,1970.2 658.0,1970.0 660.0,1969.8 662.0,1969.5 664.0,1969.3 666.0,1969.1 668.0,1968.9 670.0,1968.6 672.0,1968.4 674.0,1968.2 676.0,1968.0 678.0,1967.7 680.0,1967.5 682.0,1967.3 684.0,1967.1 686.0,1966.8 688.0,1966.6 690.0,1966.4 692.0,1966.2 694.0,1965.9 696.0,1965.7 698.0,1965.5 700.0,1965.3 702.0,1965.0 704.0,1964.8 706.0,1964.6 708.0,1964.4 710.0,1964.1 712.0,1963.9 714.0,1963.7 716.0,1963.5 718.0,1963.2 720.0,1963.0 722.0,1962.8 724.0,1962.6 726.0,1962.3 728.0,1962.1 730.0,1961.9 732.0,1961.7 734.0,1961.4 736.0,1961.2 738.0,1961.0 740.0,1960.8 742.0,1960.5 744.0,1960.3 746.0,1960.1 748.0,1959.9 750.0,1959.6 752.0,1959.4 754.0,1959.2 756.0,1959.0 758.0,1958.7 760.0,1958.5 762.0,1958.3 764.0,1958.1 766.0,1957.9 768.0,1957.7 770.0,1957.5 772.0,1957.3 774.0,1957.1 776.0,1956.9 778.0,1956.7 780.0,1956.5 782.0,1956.3 784.0,1956.1 786.0,1955.9 788.0,1955.6 790.0,1955.4 792.0,1955.2 794.0,1955.0 796.0,1954.8 798.0,1954.6 800.0,1954.4 802.0,1954.2 804.0,1954.0 806.0,1953.8 808.0,1953.6 810.0,1953.4 812.0,1953.2 814.0,1953.0 816.0,1952.8 818.0,1952.6 820.0,1952.4 822.0,1952.2 824.0,1952.0 826.0,1951.8 828.0,1951.6 830.0,1951.4 832.0,1951.2 834.0,1951.0 836.0,1950.8 838.0,1950.5 840.0,1950.3 842.0,1950.1 844.0,1949.9 846.0,1949.7 848.0,1949.5 850.0,1949.3 852.0,1949.1 854.0,1948.9 856.0,1948.7 858.0,1948.5 860.0,1948.3 862.0,1948.1 864.0,1947.9 866.0,1947.7 868.0,1947.5 870.0,1947.3 872.0,1947.1 874.0,1946.9 876.0,1946.7 878.0,1946.5 880.0,1946.3 882.0,1946.1 884.0,1945.9 886.0,1945.6 888.0,1945.4 890.0,1945.2 892.0,1945.0 894.0,1944.8 896.0,1944.6 898.0,1944.4 900.0,1944.2 902.0,1944.0 904.0,1943.8 906.0,1943.6 908.0,1943.4 910.0,1943.2 912.0,1943.0 914.0,1942.8 916.0,1942.6 918.0,1942.4 920.0,1942.2 922.0,1942.0 924.0,1941.8 926.0,1941.6 928.0,1941.4 930.0,1941.2 932.0,1941.0 934.0,1940.8 936.0,1940.5 938.0,1940.3 940.0,1940.1 942.0,1939.9 944.0,1939.7 946.0,1939.5 948.0,1939.3 950.0,1939.1 952.0,1938.9 954.0,1938.7 956.0,1938.5 958.0,1938.3 960.0,1938.1 962.0,1937.9 964.0,1937.6 966.0,1937.4 968.0,1937.1 970.0,1936.9 972.0,1936.6 974.0,1936.4 976.0,1936.1 978.0,1935.9 980.0,1935.6 982.0,1935.4 984.0,1935.1 986.0,1934.9 988.0,1934.6 990.0,1934.4 992.0,1934.1 994.0,1933.9 996.0,1933.6 998.0,1933.4 1000.0,1933.2 1002.0,1932.9 1004.0,1932.7 1006.0,1932.4 1008.0,1932.2 1010.0,1931.9 1012.0,1931.7 1014.0,1931.4 1016.0,1931.2 1018.0,1930.9 1020.0,1930.7 1022.0,1930.4 1024.0,1930.2 1026.0,1929.9 1028.0,1929.7 1030.0,1929.4 1032.0,1929.2 1034.0,1928.9 1036.0,1928.7 1038.0,1928.5 1040.0,1928.2 1042.0,1928.0 1044.0,1927.7 1046.0,1927.5 1048.0,1927.2 1050.0,1927.0 1052.0,1926.7 1054.0,1926.5 1056.0,1926.2 1058.0,1926.0 1060.0,1925.7 1062.0,1925.5 1064.0,1925.2 1066.0,1925.0 1068.0,1924.7 1070.0,1924.5 1072.0,1924.2 1074.0,1924.0 1076.0,1923.8 1078.0,1923.5 1080.0,1923.3 1082.0,1923.0 1084.0,1922.8 1086.0,1922.5 1088.0,1922.3 1090.0,1922.0 1092.0,1921.8 1094.0,1921.5 1096.0,1921.3 1098.0,1921.0 1100.0,1920.8 1102.0,1920.5 1104.0,1920.3 1106.0,1920.0 1108.0,1919.8 1110.0,1919.5 1112.0,1919.3 1114.0,1919.1 1116.0,1918.8 1118.0,1918.6 1120.0,1918.3 1122.0,1918.1 1124.0,1917.8 1126.0,1917.6 1128.0,1917.3 1130.0,1917.1 1132.0,1916.8 1134.0,1916.6 1136.0,1916.3 1138.0,1916.1 1140.0,1915.8 1142.0,1915.6 1144.0,1915.3 1146.0,1915.1 1148.0,1914.8 1150.0,1914.6 1152.0,1914.4 1154.0,1914.3 1156.0,1914.1 1158.0,1913.9 1160.0,1913.7 1162.0,1913.6 1164.0,1913.4 1166.0,1913.2 1168.0,1913.0 1170.0,1912.9 1172.0,1912.7 1174.0,1912.5 1176.0,1912.3 1178.0,1912.2 1180.0,1912.0 1182.0,1911.8 1184.0,1911.6 1186.0,1911.5 1188.0,1911.3 1190.0,1911.1 1192.0,1910.9 1194.0,1910.8 1196.0,1910.6 1198.0,1910.4 1200.0,1910.2 1202.0,1910.1 1204.0,1909.9 1206.0,1909.7 1208.0,1909.5 1210.0,1909.4 1212.0,1909.2 1214.0,1909.0 1216.0,1908.8 1218.0,1908.7 1220.0,1908.5 1222.0,1908.3 1224.0,1908.1 1226.0,1908.0 1228.0,1907.8 1230.0,1907.6 1232.0,1907.4 1234.0,1907.3 1236.0,1907.1 1238.0,1906.9 1240.0,1906.7 1242.0,1906.6 1244.0,1906.4 1246.0,1906.2 1248.0,1906.0 1250.0,1905.9 1252.0,1905.7 1254.0,1905.5 1256.0,1905.3 1258.0,1905.2 1260.0,1905.0 1262.0,1904.8 1264.0,1904.6 1266.0,1904.5 1268.0,1904.3 1270.0,1904.1 1272.0,1903.9 1274.0,1903.8 1276.0,1903.6 1278.0,1903.4 1280.0,1903.2 1282.0,1903.1 1284.0,1902.9 1286.0,1902.7 1288.0,1902.5 1290.0,1902.4 1292.0,1902.2 1294.0,1902.0 1296.0,1901.8 1298.0,1901.7 1300.0,1901.5 1302.0,1901.3 1304.0,1901.1 1306.0,1901.0 1308.0,1900.8 1310.0,1900.6 1312.0,1900.4 1314.0,1900.3 1316.0,1900.1 1318.0,1899.9 1320.0,1899.7 1322.0,1899.6 1324.0,1899.4 1326.0,1899.2 1328.0,1899.0 1330.0,1898.9 1332.0,1898.7 1334.0,1898.5 1336.0,1898.3 1338.0,1898.2 1340.0,1898.0 1342.0,1897.8 1344.0,1897.6 1346.0,1897.5 1348.0,1897.3 1350.0,1897.1 1352.0,1896.9 1354.0,1896.8 1356.0,1896.6 1358.0,1896.4 1360.0,1896.2 1362.0,1896.0 1364.0,1895.8 1366.0,1895.6 1368.0,1895.3 1370.0,1895.1 1372.0,1894.9 1374.0,1894.7 1376.0,1894.5 1378.0,1894.3 1380.0,1894.1 1382.0,1893.9 1384.0,1893.7 1386.0,1893.5 1388.0,1893.2 1390.0,1893.0 1392.0,1892.8 1394.0,1892.6 1396.0,1892.4 1398.0,1892.2 1400.0,1892.0 1402.0,1891.8 1404.0,1891.6 1406.0,1891.4 1408.0,1891.2 1410.0,1890.9 1412.0,1890.7 1414.0,1890.5 1416.0,1890.3 1418.0,1890.1 1420.0,1889.9 1422.0,1889.7 1424.0,1889.5 1426.0,1889.3 1428.0,1889.1 1430.0,1888.8 1432.0,1888.6 1434.0,1888.4 1436.0,1888.2 1438.0,1888.0 1440.0,1887.8 1442.0,1887.6 1444.0,1887.4 1446.0,1887.2 1448.0,1887.0 1450.0,1886.8 1452.0,1886.5 1454.0,1886.3 1456.0,1886.1 1458.0,1885.9 1460.0,1885.7 1462.0,1885.5 1464.0,1885.3 1466.0,1885.1 1468.0,1884.9 1470.0,1884.7 1472.0,1884.4 1474.0,1884.2 1476.0,1884.0 1478.0,1883.8 1480.0,1883.6 1482.0,1883.4 1484.0,1883.2 1486.0,1883.0 1488.0,1882.8 1490.0,1882.6 1492.0,1882.3 1494.0,1882.1 1496.0,1881.9 1498.0,1881.7 1500.0,1881.5 1502.0,1881.3 1504.0,1881.1 1506.0,1880.9 1508.0,1880.7 1510.0,1880.5 1512.0,1880.2 1514.0,1880.0 1516.0,1879.8 1518.0,1879.6 1520.0,1879.4 1522.0,1879.2 1524.0,1879.0 1526.0,1878.8 1528.0,1878.6 1530.0,1878.4 1532.0,1878.2 1534.0,1877.9 1536.0,1877.7 1538.0,1877.5 1540.0,1877.3 1542.0,1877.1" fill="none" stroke="#c4bcc4" stroke-width="4.5"/>
<polyline points="560.0,1984.8 562.0,1984.6 564.0,1984.4 566.0,1984.1 568.0,1983.9 570.0,1983.7 572.0,1983.5 574.0,1983.2 576.0,1983.0 578.0,1982.8 580.0,1982.6 582.0,1982.3 584.0,1982.1 586.0,1981.9 588.0,1981.7 590.0,1981.4 592.0,1981.2 594.0,1981.0 596.0,1980.8 598.0,1980.5 600.0,1980.3 602.0,1980.1 604.0,1979.9 606.0,1979.6 608.0,1979.4 610.0,1979.2 612.0,1979.0 614.0,1978.7 616.0,1978.5 618.0,1978.3 620.0,1978.1 622.0,1977.8 624.0,1977.6 626.0,1977.4 628.0,1977.2 630.0,1976.9 632.0,1976.7 634.0,1976.5 636.0,1976.3 638.0,1976.0 640.0,1975.8 642.0,1975.6 644.0,1975.4 646.0,1975.1 648.0,1974.9 650.0,1974.7 652.0,1974.5 654.0,1974.2 656.0,1974.0 658.0,1973.8 660.0,1973.6 662.0,1973.3 664.0,1973.1 666.0,1972.9 668.0,1972.7 670.0,1972.4 672.0,1972.2 674.0,1972.0 676.0,1971.8 678.0,1971.5 680.0,1971.3 682.0,1971.1 684.0,1970.9 686.0,1970.6 688.0,1970.4 690.0,1970.2 692.0,1970.0 694.0,1969.7 696.0,1969.5 698.0,1969.3 700.0,1969.1 702.0,1968.8 704.0,1968.6 706.0,1968.4 708.0,1968.2 710.0,1967.9 712.0,1967.7 714.0,1967.5 716.0,1967.3 718.0,1967.0 720.0,1966.8 722.0,1966.6 724.0,1966.4 726.0,1966.1 728.0,1965.9 730.0,1965.7 732.0,1965.5 734.0,1965.2 736.0,1965.0 738.0,1964.8 740.0,1964.6 742.0,1964.3 744.0,1964.1 746.0,1963.9 748.0,1963.7 750.0,1963.4 752.0,1963.2 754.0,1963.0 756.0,1962.8 758.0,1962.5 760.0,1962.3 762.0,1962.1 764.0,1961.9 766.0,1961.7 768.0,1961.5 770.0,1961.3 772.0,1961.1 774.0,1960.9 776.0,1960.7 778.0,1960.5 780.0,1960.3 782.0,1960.1 784.0,1959.9 786.0,1959.7 788.0,1959.4 790.0,1959.2 792.0,1959.0 794.0,1958.8 796.0,1958.6 798.0,1958.4 800.0,1958.2 802.0,1958.0 804.0,1957.8 806.0,1957.6 808.0,1957.4 810.0,1957.2 812.0,1957.0 814.0,1956.8 816.0,1956.6 818.0,1956.4 820.0,1956.2 822.0,1956.0 824.0,1955.8 826.0,1955.6 828.0,1955.4 830.0,1955.2 832.0,1955.0 834.0,1954.8 836.0,1954.6 838.0,1954.3 840.0,1954.1 842.0,1953.9 844.0,1953.7 846.0,1953.5 848.0,1953.3 850.0,1953.1 852.0,1952.9 854.0,1952.7 856.0,1952.5 858.0,1952.3 860.0,1952.1 862.0,1951.9 864.0,1951.7 866.0,1951.5 868.0,1951.3 870.0,1951.1 872.0,1950.9 874.0,1950.7 876.0,1950.5 878.0,1950.3 880.0,1950.1 882.0,1949.9 884.0,1949.7 886.0,1949.4 888.0,1949.2 890.0,1949.0 892.0,1948.8 894.0,1948.6 896.0,1948.4 898.0,1948.2 900.0,1948.0 902.0,1947.8 904.0,1947.6 906.0,1947.4 908.0,1947.2 910.0,1947.0 912.0,1946.8 914.0,1946.6 916.0,1946.4 918.0,1946.2 920.0,1946.0 922.0,1945.8 924.0,1945.6 926.0,1945.4 928.0,1945.2 930.0,1945.0 932.0,1944.8 934.0,1944.6 936.0,1944.3 938.0,1944.1 940.0,1943.9 942.0,1943.7 944.0,1943.5 946.0,1943.3 948.0,1943.1 950.0,1942.9 952.0,1942.7 954.0,1942.5 956.0,1942.3 958.0,1942.1 960.0,1941.9 962.0,1941.7 964.0,1941.4 966.0,1941.2 968.0,1940.9 970.0,1940.7 972.0,1940.4 974.0,1940.2 976.0,1939.9 978.0,1939.7 980.0,1939.4 982.0,1939.2 984.0,1938.9 986.0,1938.7 988.0,1938.4 990.0,1938.2 992.0,1937.9 994.0,1937.7 996.0,1937.4 998.0,1937.2 1000.0,1937.0 1002.0,1936.7 1004.0,1936.5 1006.0,1936.2 1008.0,1936.0 1010.0,1935.7 1012.0,1935.5 1014.0,1935.2 1016.0,1935.0 1018.0,1934.7 1020.0,1934.5 1022.0,1934.2 1024.0,1934.0 1026.0,1933.7 1028.0,1933.5 1030.0,1933.2 1032.0,1933.0 1034.0,1932.7 1036.0,1932.5 1038.0,1932.3 1040.0,1932.0 1042.0,1931.8 1044.0,1931.5 1046.0,1931.3 1048.0,1931.0 1050.0,1930.8 1052.0,1930.5 1054.0,1930.3 1056.0,1930.0 1058.0,1929.8 1060.0,1929.5 1062.0,1929.3 1064.0,1929.0 1066.0,1928.8 1068.0,1928.5 1070.0,1928.3 1072.0,1928.0 1074.0,1927.8 1076.0,1927.6 1078.0,1927.3 1080.0,1927.1 1082.0,1926.8 1084.0,1926.6 1086.0,1926.3 1088.0,1926.1 1090.0,1925.8 1092.0,1925.6 1094.0,1925.3 1096.0,1925.1 1098.0,1924.8 1100.0,1924.6 1102.0,1924.3 1104.0,1924.1 1106.0,1923.8 1108.0,1923.6 1110.0,1923.3 1112.0,1923.1 1114.0,1922.9 1116.0,1922.6 1118.0,1922.4 1120.0,1922.1 1122.0,1921.9 1124.0,1921.6 1126.0,1921.4 1128.0,1921.1 1130.0,1920.9 1132.0,1920.6 1134.0,1920.4 1136.0,1920.1 1138.0,1919.9 1140.0,1919.6 1142.0,1919.4 1144.0,1919.1 1146.0,1918.9 1148.0,1918.6 1150.0,1918.4 1152.0,1918.2 1154.0,1918.1 1156.0,1917.9 1158.0,1917.7 1160.0,1917.5 1162.0,1917.4 1164.0,1917.2 1166.0,1917.0 1168.0,1916.8 1170.0,1916.7 1172.0,1916.5 1174.0,1916.3 1176.0,1916.1 1178.0,1916.0 1180.0,1915.8 1182.0,1915.6 1184.0,1915.4 1186.0,1915.3 1188.0,1915.1 1190.0,1914.9 1192.0,1914.7 1194.0,1914.6 1196.0,1914.4 1198.0,1914.2 1200.0,1914.0 1202.0,1913.9 1204.0,1913.7 1206.0,1913.5 1208.0,1913.3 1210.0,1913.2 1212.0,1913.0 1214.0,1912.8 1216.0,1912.6 1218.0,1912.5 1220.0,1912.3 1222.0,1912.1 1224.0,1911.9 1226.0,1911.8 1228.0,1911.6 1230.0,1911.4 1232.0,1911.2 1234.0,1911.1 1236.0,1910.9 1238.0,1910.7 1240.0,1910.5 1242.0,1910.4 1244.0,1910.2 1246.0,1910.0 1248.0,1909.8 1250.0,1909.7 1252.0,1909.5 1254.0,1909.3 1256.0,1909.1 1258.0,1909.0 1260.0,1908.8 1262.0,1908.6 1264.0,1908.4 1266.0,1908.3 1268.0,1908.1 1270.0,1907.9 1272.0,1907.7 1274.0,1907.6 1276.0,1907.4 1278.0,1907.2 1280.0,1907.0 1282.0,1906.9 1284.0,1906.7 1286.0,1906.5 1288.0,1906.3 1290.0,1906.2 1292.0,1906.0 1294.0,1905.8 1296.0,1905.6 1298.0,1905.5 1300.0,1905.3 1302.0,1905.1 1304.0,1904.9 1306.0,1904.8 1308.0,1904.6 1310.0,1904.4 1312.0,1904.2 1314.0,1904.1 1316.0,1903.9 1318.0,1903.7 1320.0,1903.5 1322.0,1903.4 1324.0,1903.2 1326.0,1903.0 1328.0,1902.8 1330.0,1902.7 1332.0,1902.5 1334.0,1902.3 1336.0,1902.1 1338.0,1902.0 1340.0,1901.8 1342.0,1901.6 1344.0,1901.4 1346.0,1901.3 1348.0,1901.1 1350.0,1900.9 1352.0,1900.7 1354.0,1900.6 1356.0,1900.4 1358.0,1900.2 1360.0,1900.0 1362.0,1899.8 1364.0,1899.6 1366.0,1899.4 1368.0,1899.1 1370.0,1898.9 1372.0,1898.7 1374.0,1898.5 1376.0,1898.3 1378.0,1898.1 1380.0,1897.9 1382.0,1897.7 1384.0,1897.5 1386.0,1897.3 1388.0,1897.0 1390.0,1896.8 1392.0,1896.6 1394.0,1896.4 1396.0,1896.2 1398.0,1896.0 1400.0,1895.8 1402.0,1895.6 1404.0,1895.4 1406.0,1895.2 1408.0,1895.0 1410.0,1894.7 1412.0,1894.5 1414.0,1894.3 1416.0,1894.1 1418.0,1893.9 1420.0,1893.7 1422.0,1893.5 1424.0,1893.3 1426.0,1893.1 1428.0,1892.9 1430.0,1892.6 1432.0,1892.4 1434.0,1892.2 1436.0,1892.0 1438.0,1891.8 1440.0,1891.6 1442.0,1891.4 1444.0,1891.2 1446.0,1891.0 1448.0,1890.8 1450.0,1890.5 1452.0,1890.3 1454.0,1890.1 1456.0,1889.9 1458.0,1889.7 1460.0,1889.5 1462.0,1889.3 1464.0,1889.1 1466.0,1888.9 1468.0,1888.7 1470.0,1888.5 1472.0,1888.2 1474.0,1888.0 1476.0,1887.8 1478.0,1887.6 1480.0,1887.4 1482.0,1887.2 1484.0,1887.0 1486.0,1886.8 1488.0,1886.6 1490.0,1886.4 1492.0,1886.1 1494.0,1885.9 1496.0,1885.7 1498.0,1885.5 1500.0,1885.3 1502.0,1885.1 1504.0,1884.9 1506.0,1884.7 1508.0,1884.5 1510.0,1884.3 1512.0,1884.0 1514.0,1883.8 1516.0,1883.6 1518.0,1883.4 1520.0,1883.2 1522.0,1883.0 1524.0,1882.8 1526.0,1882.6 1528.0,1882.4 1530.0,1882.2 1532.0,1882.0 1534.0,1881.7 1536.0,1881.5 1538.0,1881.3 1540.0,1881.1 1542.0,1880.9" fill="none" stroke="#22e868" stroke-width="2.6" stroke-dasharray="10 6"/>
<polyline points="560.0,1977.4 562.0,1977.2 564.0,1977.0 566.0,1976.7 568.0,1976.5 570.0,1976.3 572.0,1976.1 574.0,1975.8 576.0,1975.6 578.0,1975.4 580.0,1975.2 582.0,1974.9 584.0,1974.7 586.0,1974.5 588.0,1974.3 590.0,1974.0 592.0,1973.8 594.0,1973.6 596.0,1973.4 598.0,1973.1 600.0,1972.9 602.0,1972.7 604.0,1972.5 606.0,1972.2 608.0,1972.0 610.0,1971.8 612.0,1971.6 614.0,1971.3 616.0,1971.1 618.0,1970.9 620.0,1970.7 622.0,1970.4 624.0,1970.2 626.0,1970.0 628.0,1969.8 630.0,1969.5 632.0,1969.3 634.0,1969.1 636.0,1968.9 638.0,1968.6 640.0,1968.4 642.0,1968.2 644.0,1968.0 646.0,1967.7 648.0,1967.5 650.0,1967.3 652.0,1967.1 654.0,1966.8 656.0,1966.6 658.0,1966.4 660.0,1966.2 662.0,1965.9 664.0,1965.7 666.0,1965.5 668.0,1965.3 670.0,1965.0 672.0,1964.8 674.0,1964.6 676.0,1964.4 678.0,1964.1 680.0,1963.9 682.0,1963.7 684.0,1963.5 686.0,1963.2 688.0,1963.0 690.0,1962.8 692.0,1962.6 694.0,1962.3 696.0,1962.1 698.0,1961.9 700.0,1961.7 702.0,1961.4 704.0,1961.2 706.0,1961.0 708.0,1960.8 710.0,1960.5 712.0,1960.3 714.0,1960.1 716.0,1959.9 718.0,1959.6 720.0,1959.4 722.0,1959.2 724.0,1959.0 726.0,1958.7 728.0,1958.5 730.0,1958.3 732.0,1958.1 734.0,1957.8 736.0,1957.6 738.0,1957.4 740.0,1957.2 742.0,1956.9 744.0,1956.7 746.0,1956.5 748.0,1956.3 750.0,1956.0 752.0,1955.8 754.0,1955.6 756.0,1955.4 758.0,1955.1 760.0,1954.9 762.0,1954.7 764.0,1954.5 766.0,1954.3 768.0,1954.1 770.0,1953.9 772.0,1953.7 774.0,1953.5 776.0,1953.3 778.0,1953.1 780.0,1952.9 782.0,1952.7 784.0,1952.5 786.0,1952.3 788.0,1952.0 790.0,1951.8 792.0,1951.6 794.0,1951.4 796.0,1951.2 798.0,1951.0 800.0,1950.8 802.0,1950.6 804.0,1950.4 806.0,1950.2 808.0,1950.0 810.0,1949.8 812.0,1949.6 814.0,1949.4 816.0,1949.2 818.0,1949.0 820.0,1948.8 822.0,1948.6 824.0,1948.4 826.0,1948.2 828.0,1948.0 830.0,1947.8 832.0,1947.6 834.0,1947.4 836.0,1947.2 838.0,1946.9 840.0,1946.7 842.0,1946.5 844.0,1946.3 846.0,1946.1 848.0,1945.9 850.0,1945.7 852.0,1945.5 854.0,1945.3 856.0,1945.1 858.0,1944.9 860.0,1944.7 862.0,1944.5 864.0,1944.3 866.0,1944.1 868.0,1943.9 870.0,1943.7 872.0,1943.5 874.0,1943.3 876.0,1943.1 878.0,1942.9 880.0,1942.7 882.0,1942.5 884.0,1942.3 886.0,1942.0 888.0,1941.8 890.0,1941.6 892.0,1941.4 894.0,1941.2 896.0,1941.0 898.0,1940.8 900.0,1940.6 902.0,1940.4 904.0,1940.2 906.0,1940.0 908.0,1939.8 910.0,1939.6 912.0,1939.4 914.0,1939.2 916.0,1939.0 918.0,1938.8 920.0,1938.6 922.0,1938.4 924.0,1938.2 926.0,1938.0 928.0,1937.8 930.0,1937.6 932.0,1937.4 934.0,1937.2 936.0,1936.9 938.0,1936.7 940.0,1936.5 942.0,1936.3 944.0,1936.1 946.0,1935.9 948.0,1935.7 950.0,1935.5 952.0,1935.3 954.0,1935.1 956.0,1934.9 958.0,1934.7 960.0,1934.5 962.0,1934.3 964.0,1934.0 966.0,1933.8 968.0,1933.5 970.0,1933.3 972.0,1933.0 974.0,1932.8 976.0,1932.5 978.0,1932.3 980.0,1932.0 982.0,1931.8 984.0,1931.5 986.0,1931.3 988.0,1931.0 990.0,1930.8 992.0,1930.5 994.0,1930.3 996.0,1930.0 998.0,1929.8 1000.0,1929.6 1002.0,1929.3 1004.0,1929.1 1006.0,1928.8 1008.0,1928.6 1010.0,1928.3 1012.0,1928.1 1014.0,1927.8 1016.0,1927.6 1018.0,1927.3 1020.0,1927.1 1022.0,1926.8 1024.0,1926.6 1026.0,1926.3 1028.0,1926.1 1030.0,1925.8 1032.0,1925.6 1034.0,1925.3 1036.0,1925.1 1038.0,1924.9 1040.0,1924.6 1042.0,1924.4 1044.0,1924.1 1046.0,1923.9 1048.0,1923.6 1050.0,1923.4 1052.0,1923.1 1054.0,1922.9 1056.0,1922.6 1058.0,1922.4 1060.0,1922.1 1062.0,1921.9 1064.0,1921.6 1066.0,1921.4 1068.0,1921.1 1070.0,1920.9 1072.0,1920.6 1074.0,1920.4 1076.0,1920.2 1078.0,1919.9 1080.0,1919.7 1082.0,1919.4 1084.0,1919.2 1086.0,1918.9 1088.0,1918.7 1090.0,1918.4 1092.0,1918.2 1094.0,1917.9 1096.0,1917.7 1098.0,1917.4 1100.0,1917.2 1102.0,1916.9 1104.0,1916.7 1106.0,1916.4 1108.0,1916.2 1110.0,1915.9 1112.0,1915.7 1114.0,1915.5 1116.0,1915.2 1118.0,1915.0 1120.0,1914.7 1122.0,1914.5 1124.0,1914.2 1126.0,1914.0 1128.0,1913.7 1130.0,1913.5 1132.0,1913.2 1134.0,1913.0 1136.0,1912.7 1138.0,1912.5 1140.0,1912.2 1142.0,1912.0 1144.0,1911.7 1146.0,1911.5 1148.0,1911.2 1150.0,1911.0 1152.0,1910.8 1154.0,1910.7 1156.0,1910.5 1158.0,1910.3 1160.0,1910.1 1162.0,1910.0 1164.0,1909.8 1166.0,1909.6 1168.0,1909.4 1170.0,1909.3 1172.0,1909.1 1174.0,1908.9 1176.0,1908.7 1178.0,1908.6 1180.0,1908.4 1182.0,1908.2 1184.0,1908.0 1186.0,1907.9 1188.0,1907.7 1190.0,1907.5 1192.0,1907.3 1194.0,1907.2 1196.0,1907.0 1198.0,1906.8 1200.0,1906.6 1202.0,1906.5 1204.0,1906.3 1206.0,1906.1 1208.0,1905.9 1210.0,1905.8 1212.0,1905.6 1214.0,1905.4 1216.0,1905.2 1218.0,1905.1 1220.0,1904.9 1222.0,1904.7 1224.0,1904.5 1226.0,1904.4 1228.0,1904.2 1230.0,1904.0 1232.0,1903.8 1234.0,1903.7 1236.0,1903.5 1238.0,1903.3 1240.0,1903.1 1242.0,1903.0 1244.0,1902.8 1246.0,1902.6 1248.0,1902.4 1250.0,1902.3 1252.0,1902.1 1254.0,1901.9 1256.0,1901.7 1258.0,1901.6 1260.0,1901.4 1262.0,1901.2 1264.0,1901.0 1266.0,1900.9 1268.0,1900.7 1270.0,1900.5 1272.0,1900.3 1274.0,1900.2 1276.0,1900.0 1278.0,1899.8 1280.0,1899.6 1282.0,1899.5 1284.0,1899.3 1286.0,1899.1 1288.0,1898.9 1290.0,1898.8 1292.0,1898.6 1294.0,1898.4 1296.0,1898.2 1298.0,1898.1 1300.0,1897.9 1302.0,1897.7 1304.0,1897.5 1306.0,1897.4 1308.0,1897.2 1310.0,1897.0 1312.0,1896.8 1314.0,1896.7 1316.0,1896.5 1318.0,1896.3 1320.0,1896.1 1322.0,1896.0 1324.0,1895.8 1326.0,1895.6 1328.0,1895.4 1330.0,1895.3 1332.0,1895.1 1334.0,1894.9 1336.0,1894.7 1338.0,1894.6 1340.0,1894.4 1342.0,1894.2 1344.0,1894.0 1346.0,1893.9 1348.0,1893.7 1350.0,1893.5 1352.0,1893.3 1354.0,1893.2 1356.0,1893.0 1358.0,1892.8 1360.0,1892.6 1362.0,1892.4 1364.0,1892.2 1366.0,1892.0 1368.0,1891.7 1370.0,1891.5 1372.0,1891.3 1374.0,1891.1 1376.0,1890.9 1378.0,1890.7 1380.0,1890.5 1382.0,1890.3 1384.0,1890.1 1386.0,1889.9 1388.0,1889.7 1390.0,1889.4 1392.0,1889.2 1394.0,1889.0 1396.0,1888.8 1398.0,1888.6 1400.0,1888.4 1402.0,1888.2 1404.0,1888.0 1406.0,1887.8 1408.0,1887.6 1410.0,1887.3 1412.0,1887.1 1414.0,1886.9 1416.0,1886.7 1418.0,1886.5 1420.0,1886.3 1422.0,1886.1 1424.0,1885.9 1426.0,1885.7 1428.0,1885.5 1430.0,1885.2 1432.0,1885.0 1434.0,1884.8 1436.0,1884.6 1438.0,1884.4 1440.0,1884.2 1442.0,1884.0 1444.0,1883.8 1446.0,1883.6 1448.0,1883.4 1450.0,1883.2 1452.0,1882.9 1454.0,1882.7 1456.0,1882.5 1458.0,1882.3 1460.0,1882.1 1462.0,1881.9 1464.0,1881.7 1466.0,1881.5 1468.0,1881.3 1470.0,1881.1 1472.0,1880.8 1474.0,1880.6 1476.0,1880.4 1478.0,1880.2 1480.0,1880.0 1482.0,1879.8 1484.0,1879.6 1486.0,1879.4 1488.0,1879.2 1490.0,1879.0 1492.0,1878.7 1494.0,1878.5 1496.0,1878.3 1498.0,1878.1 1500.0,1877.9 1502.0,1877.7 1504.0,1877.5 1506.0,1877.3 1508.0,1877.1 1510.0,1876.9 1512.0,1876.7 1514.0,1876.4 1516.0,1876.2 1518.0,1876.0 1520.0,1875.8 1522.0,1875.6 1524.0,1875.4 1526.0,1875.2 1528.0,1875.0 1530.0,1874.8 1532.0,1874.6 1534.0,1874.3 1536.0,1874.1 1538.0,1873.9 1540.0,1873.7 1542.0,1873.5" fill="none" stroke="#30e070" stroke-width="2.4" stroke-dasharray="8 8"/>
<polyline points="209.2,2018.0 212.3,2017.5 227.6,2015.4 242.9,2013.4 258.3,2011.3 273.6,2009.4 288.9,2007.4 304.2,2005.5 319.6,2003.7 334.9,2001.9 350.2,2000.1 365.5,1998.4 380.9,1996.7 396.2,1995.0 411.5,1993.4 426.8,1991.7 442.2,1990.2 457.5,1988.6 472.8,1986.9 488.2,1985.3 503.5,1983.5 518.8,1981.7 534.1,1979.7 549.5,1977.5 564.8,1974.6 580.1,1970.7 595.4,1965.4 610.8,1958.2 626.1,1947.8 641.4,1936.5 656.7,1930.0 672.1,1929.1 687.4,1931.3 702.7,1934.3 718.0,1936.3 733.4,1935.4 748.7,1929.9 764.0,1918.9 779.3,1901.9 794.7,1879.0 810.0,1849.7 825.3,1814.3 840.6,1777.8 856.0,1747.8 871.3,1729.8 886.6,1730.6 902.0,1745.4 917.3,1766.5 932.6,1786.1 947.9,1797.0 963.3,1795.0 978.6,1777.7 993.9,1745.3 1009.2,1705.7 1024.6,1667.4 1039.9,1639.3 1055.2,1626.0 1070.5,1624.3 1085.9,1634.0 1101.2,1654.5 1116.5,1683.0 1131.8,1716.5 1147.2,1751.8 1162.5,1783.2 1177.8,1805.8 1193.1,1824.2 1208.5,1839.9 1223.8,1853.1 1239.1,1864.0 1254.5,1872.9 1269.8,1879.8 1285.1,1885.1 1300.4,1889.0 1315.8,1891.5 1331.1,1893.0 1346.4,1893.6 1361.7,1893.4 1377.1,1892.8 1392.4,1891.8 1407.7,1890.5 1423.0,1889.0 1438.4,1887.3 1453.7,1885.5 1469.0,1883.8 1484.3,1882.2 1499.7,1880.8 1515.0,1879.6 1530.3,1878.8 1538.0,1878.6" fill="none" stroke="#000" stroke-width="9.3" stroke-linejoin="round" stroke-linecap="round"/>
<polyline points="889.4,1801.7 977.7,1493.5 1061.1,1641.5" fill="none" stroke="#0000ff" stroke-width="8.5" stroke-linejoin="round" stroke-linecap="round"/>
<polyline points="1025.3,1909.3 1287.9,1617.6 1229.8,1866.4" fill="none" stroke="#ff0000" stroke-width="8.5" stroke-linejoin="round" stroke-linecap="round"/>
<polyline points="666.7,1925.5 673.3,1682.0 830.5,1867.5" fill="none" stroke="#00ff00" stroke-width="9.8" stroke-linejoin="round" stroke-linecap="round"/>
<rect x="163.7" y="22.4" width="1379.0" height="2109.6" fill="none" stroke="#000" stroke-width="14.5" stroke-linejoin="round"/>
<line x1="240.3" y1="2130" x2="240.3" y2="2118.5" stroke="#000" stroke-width="13.5" stroke-linecap="round"/>
<line x1="316.9" y1="2130" x2="316.9" y2="2106" stroke="#000" stroke-width="13.5" stroke-linecap="round"/>
<line x1="393.5" y1="2130" x2="393.5" y2="2118.5" stroke="#000" stroke-width="13.5" stroke-linecap="round"/>
<line x1="470.1" y1="2130" x2="470.1" y2="2106" stroke="#000" stroke-width="13.5" stroke-linecap="round"/>
<line x1="546.8" y1="2130" x2="546.8" y2="2118.5" stroke="#000" stroke-width="13.5" stroke-linecap="round"/>
<line x1="623.4" y1="2130" x2="623.4" y2="2106" stroke="#000" stroke-width="13.5" stroke-linecap="round"/>
<line x1="700.0" y1="2130" x2="700.0" y2="2118.5" stroke="#000" stroke-width="13.5" stroke-linecap="round"/>
<line x1="776.6" y1="2130" x2="776.6" y2="2106" stroke="#000" stroke-width="13.5" stroke-linecap="round"/>
<line x1="853.2" y1="2130" x2="853.2" y2="2118.5" stroke="#000" stroke-width="13.5" stroke-linecap="round"/>
<line x1="929.8" y1="2130" x2="929.8" y2="2106" stroke="#000" stroke-width="13.5" stroke-linecap="round"/>
<line x1="1006.4" y1="2130" x2="1006.4" y2="2118.5" stroke="#000" stroke-width="13.5" stroke-linecap="round"/>
<line x1="1083.0" y1="2130" x2="1083.0" y2="2106" stroke="#000" stroke-width="13.5" stroke-linecap="round"/>
<line x1="1159.6" y1="2130" x2="1159.6" y2="2118.5" stroke="#000" stroke-width="13.5" stroke-linecap="round"/>
<line x1="1236.3" y1="2130" x2="1236.3" y2="2106" stroke="#000" stroke-width="13.5" stroke-linecap="round"/>
<line x1="1312.9" y1="2130" x2="1312.9" y2="2118.5" stroke="#000" stroke-width="13.5" stroke-linecap="round"/>
<line x1="1389.5" y1="2130" x2="1389.5" y2="2106" stroke="#000" stroke-width="13.5" stroke-linecap="round"/>
<line x1="1466.1" y1="2130" x2="1466.1" y2="2118.5" stroke="#000" stroke-width="13.5" stroke-linecap="round"/>
<text x="163.7" y="2205" font-family="Liberation Sans, Arial, sans-serif" font-weight="bold" font-size="58.5" text-anchor="middle">168</text>
<text x="316.9" y="2205" font-family="Liberation Sans, Arial, sans-serif" font-weight="bold" font-size="58.5" text-anchor="middle">167</text>
<text x="470.1" y="2205" font-family="Liberation Sans, Arial, sans-serif" font-weight="bold" font-size="58.5" text-anchor="middle">166</text>
<text x="623.4" y="2205" font-family="Liberation Sans, Arial, sans-serif" font-weight="bold" font-size="58.5" text-anchor="middle">165</text>
<text x="776.6" y="2205" font-family="Liberation Sans, Arial, sans-serif" font-weight="bold" font-size="58.5" text-anchor="middle">164</text>
<text x="929.8" y="2205" font-family="Liberation Sans, Arial, sans-serif" font-weight="bold" font-size="58.5" text-anchor="middle">163</text>
<text x="1083.0" y="2205" font-family="Liberation Sans, Arial, sans-serif" font-weight="bold" font-size="58.5" text-anchor="middle">162</text>
<text x="1236.3" y="2205" font-family="Liberation Sans, Arial, sans-serif" font-weight="bold" font-size="58.5" text-anchor="middle">161</text>
<text x="1389.5" y="2205" font-family="Liberation Sans, Arial, sans-serif" font-weight="bold" font-size="58.5" text-anchor="middle">160</text>
<text x="1542.7" y="2205" font-family="Liberation Sans, Arial, sans-serif" font-weight="bold" font-size="58.5" text-anchor="middle">159</text>
<text x="490.8" y="2305.8" font-family="Liberation Sans, Arial, sans-serif" font-weight="bold" font-size="76.8">Binding energy (eV)</text>
<text transform="translate(76.2,1400) rotate(-90)" x="-5" y="0" font-family="Liberation Sans, Arial, sans-serif" font-weight="bold" font-size="76.5">Intensity (arb. units)</text>
<text x="204" y="111.5" font-family="Liberation Sans, Arial, sans-serif" font-weight="bold" font-size="64.5">S 2p</text>
<text x="240.3" y="414.8" font-family="Liberation Sans, Arial, sans-serif" font-weight="bold" font-size="63.8">(c) pH = 12</text>
<text x="249.1" y="1093" font-family="Liberation Sans, Arial, sans-serif" font-weight="bold" font-size="64">(b) pH = 7</text>
<text x="252.4" y="1807.9" font-family="Liberation Sans, Arial, sans-serif" font-weight="bold" font-size="64">(a) pH = 2</text>
<text x="932" y="1462.9" font-family="Liberation Sans, Arial, sans-serif" font-size="76" textLength="81" lengthAdjust="spacingAndGlyphs">S2</text>
<text x="1267.5" y="1583.5" font-family="Liberation Sans, Arial, sans-serif" font-size="76" textLength="80.5" lengthAdjust="spacingAndGlyphs">S1</text>
<text x="610.3" y="1650.7" font-family="Liberation Sans, Arial, sans-serif" font-size="76" textLength="81.70000000000005" lengthAdjust="spacingAndGlyphs">S3</text>
</svg></body></html>
